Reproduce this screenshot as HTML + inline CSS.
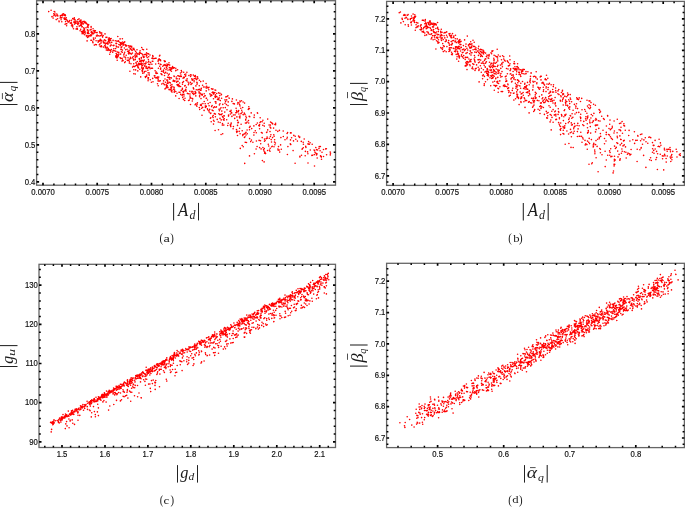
<!DOCTYPE html>
<html><head><meta charset="utf-8"><style>
html,body{margin:0;padding:0;background:#fff;overflow:hidden;}
svg{display:block;}
.t{font-family:"Liberation Sans",sans-serif;font-size:8.3px;fill:#111;stroke:#111;stroke-width:0.18px;}
.g{font-family:"Liberation Serif",serif;}
.t,.g{filter:grayscale(1);}
</style></head><body>
<svg width="685" height="507" viewBox="0 0 685 507">
<path d="M283.2 131.0h0M143.5 49.7h0M231.7 112.9h0M190.6 76.4h0M130.3 48.5h0M272.6 137.6h0M254.0 132.5h0M144.5 66.1h0M304.2 139.0h0M115.7 56.2h0M236.8 132.5h0M208.8 89.7h0M166.2 65.6h0M61.9 17.5h0M262.1 121.8h0M187.0 80.9h0M149.8 64.6h0M142.6 70.1h0M202.9 103.6h0M141.0 64.4h0M173.6 89.3h0M145.9 63.4h0M72.7 25.3h0M121.2 42.5h0M246.0 135.0h0M240.0 105.9h0M206.1 83.6h0M166.1 87.9h0M301.5 155.2h0M245.8 119.3h0M120.1 44.9h0M185.8 89.2h0M291.1 132.9h0M231.9 101.4h0M145.5 63.9h0M166.0 69.6h0M175.7 95.9h0M264.5 139.1h0M215.7 90.2h0M151.4 82.3h0M164.4 84.8h0M84.4 32.3h0M170.4 70.2h0M116.7 55.0h0M84.6 22.7h0M84.1 30.4h0M113.8 48.7h0M212.5 92.6h0M105.6 43.3h0M186.0 80.3h0M192.9 79.6h0M298.6 136.1h0M163.6 80.9h0M229.2 98.2h0M64.1 14.3h0M201.4 94.8h0M310.3 150.0h0M69.7 20.6h0M266.6 132.5h0M100.3 46.6h0M207.7 109.8h0M59.1 21.8h0M75.0 23.8h0M95.3 38.1h0M264.3 126.1h0M231.2 123.1h0M204.9 95.7h0M202.4 94.4h0M130.2 48.8h0M177.8 75.7h0M168.4 75.1h0M287.9 146.6h0M162.8 66.2h0M222.8 104.4h0M143.4 68.6h0M273.8 134.7h0M249.2 116.4h0M320.9 156.6h0M116.2 46.1h0M254.3 115.1h0M167.4 80.3h0M174.0 76.1h0M180.6 86.5h0M84.3 28.7h0M257.6 113.3h0M193.3 87.9h0M87.9 36.0h0M221.1 134.5h0M90.1 30.0h0M147.9 70.3h0M206.5 98.3h0M165.0 64.5h0M76.2 29.0h0M196.9 106.3h0M145.0 63.6h0M148.0 68.0h0M101.9 41.1h0M106.7 43.3h0M322.0 152.2h0M193.3 75.1h0M189.8 91.2h0M230.8 126.6h0M148.4 59.5h0M99.9 36.0h0M193.8 94.5h0M152.7 78.4h0M152.5 68.2h0M83.1 31.3h0M156.0 78.1h0M71.5 25.7h0M264.5 141.3h0M146.6 76.2h0M215.9 103.2h0M190.0 96.1h0M159.9 55.3h0M139.3 54.4h0M62.6 15.4h0M203.5 87.0h0M86.4 36.1h0M117.9 41.2h0M293.1 150.6h0M146.8 75.0h0M144.1 56.9h0M210.6 113.5h0M125.3 61.8h0M145.3 76.5h0M133.0 49.1h0M211.8 95.5h0M80.1 20.5h0M147.9 53.7h0M326.6 154.8h0M200.7 81.6h0M167.0 68.2h0M129.3 63.1h0M57.8 15.9h0M267.2 138.2h0M271.7 146.8h0M308.8 144.2h0M167.9 87.2h0M191.0 84.4h0M129.2 52.4h0M242.7 107.5h0M188.9 75.5h0M130.8 58.4h0M130.4 57.3h0M142.9 54.7h0M206.7 86.3h0M228.0 105.6h0M87.5 33.5h0M275.4 143.0h0M224.2 115.9h0M236.6 110.6h0M109.8 39.1h0M97.2 35.1h0M220.0 103.8h0M280.6 144.9h0M140.9 60.5h0M86.5 23.7h0M136.8 64.9h0M245.2 133.3h0M241.5 100.7h0M117.8 36.5h0M100.1 33.1h0M171.2 90.9h0M135.6 51.4h0M248.7 123.0h0M165.0 88.9h0M116.2 53.5h0M157.9 78.6h0M115.3 40.8h0M213.5 120.3h0M303.3 147.8h0M194.1 80.7h0M118.5 47.1h0M238.4 111.8h0M144.6 54.6h0M83.2 31.9h0M99.8 32.6h0M145.8 54.3h0M244.4 137.5h0M116.1 55.6h0M231.1 124.0h0M81.6 31.6h0M245.7 120.1h0M215.9 107.3h0M83.3 30.2h0M67.6 20.7h0M121.4 51.7h0M105.6 46.7h0M202.0 115.3h0M166.2 84.6h0M186.9 72.2h0M128.4 53.2h0M308.6 141.6h0M87.1 40.9h0M205.2 95.7h0M178.5 84.5h0M319.0 148.4h0M290.3 143.9h0M167.9 87.7h0M161.5 71.3h0M143.0 60.6h0M104.0 40.2h0M209.0 87.2h0M259.4 125.9h0M167.2 85.5h0M270.4 125.1h0M120.1 54.3h0M124.7 41.9h0M290.5 132.9h0M271.2 139.6h0M174.6 90.1h0M182.4 88.4h0M142.3 60.5h0M60.7 17.4h0M146.6 66.7h0M314.6 150.6h0M173.7 68.2h0M237.2 131.4h0M101.5 40.4h0M220.0 93.2h0M190.4 97.9h0M316.0 153.4h0M133.9 49.3h0M165.3 61.4h0M125.6 57.2h0M220.7 114.5h0M77.3 28.5h0M219.4 104.9h0M244.3 113.1h0M120.7 54.0h0M143.3 68.0h0M140.7 53.2h0M256.2 124.5h0M100.3 39.4h0M269.1 125.0h0M84.5 21.9h0M65.1 24.2h0M238.4 122.3h0M76.3 23.0h0M185.9 74.0h0M175.7 70.7h0M259.1 140.4h0M207.5 100.0h0M311.9 155.4h0M208.9 110.8h0M138.4 67.4h0M279.7 152.1h0M80.6 22.3h0M209.1 105.7h0M88.7 24.7h0M105.7 40.8h0M149.0 74.8h0M172.0 92.1h0M72.1 25.8h0M152.9 61.3h0M179.6 83.0h0M127.1 49.3h0M153.0 58.8h0M230.4 114.0h0M108.2 43.8h0M133.3 66.2h0M126.6 45.6h0M120.9 49.5h0M65.2 14.7h0M291.6 137.8h0M173.8 87.0h0M136.9 65.2h0M257.4 112.9h0M57.4 15.1h0M88.1 30.4h0M56.0 15.8h0M61.8 21.7h0M48.7 11.6h0M194.1 93.7h0M216.4 106.9h0M142.4 68.9h0M274.9 124.5h0M224.8 112.1h0M317.2 158.0h0M227.7 125.5h0M176.6 82.3h0M73.1 19.1h0M91.6 35.1h0M136.9 55.1h0M95.6 44.5h0M200.0 93.1h0M77.6 23.8h0M180.7 94.4h0M144.3 60.1h0M148.5 77.7h0M80.6 25.5h0M216.7 93.5h0M226.7 99.9h0M135.3 74.0h0M147.0 68.5h0M211.2 94.8h0M94.6 30.6h0M195.3 75.6h0M140.0 63.6h0M212.8 92.0h0M199.6 95.2h0M133.8 69.7h0M127.4 60.4h0M150.1 68.7h0M130.6 46.6h0M225.6 101.6h0M233.1 128.7h0M171.2 69.3h0M118.3 54.8h0M170.5 85.3h0M225.0 103.2h0M181.3 70.5h0M54.5 14.9h0M83.1 33.2h0M148.6 53.9h0M246.5 142.5h0M157.4 73.2h0M197.2 83.0h0M185.1 90.4h0M81.1 21.3h0M167.5 65.9h0M158.2 79.3h0M163.5 65.3h0M267.7 119.1h0M131.3 54.1h0M307.9 153.8h0M166.4 85.5h0M167.5 87.2h0M215.3 97.5h0M167.4 65.6h0M74.2 21.2h0M184.7 74.5h0M82.8 21.9h0M275.6 124.7h0M133.7 59.9h0M277.8 131.4h0M175.8 68.3h0M230.8 111.8h0M173.4 80.3h0M112.7 52.2h0M326.4 148.8h0M199.4 80.2h0M162.0 71.3h0M281.3 149.3h0M183.5 77.2h0M153.0 56.4h0M110.0 43.0h0M138.3 67.9h0M238.3 111.6h0M101.6 46.7h0M164.5 75.5h0M201.1 90.1h0M160.7 60.8h0M151.5 68.2h0M65.1 15.8h0M239.4 116.9h0M79.0 18.9h0M158.4 68.2h0M82.1 26.5h0M134.3 49.9h0M230.7 125.9h0M273.6 128.1h0M66.6 25.7h0M131.7 46.3h0M210.4 113.3h0M146.0 66.2h0M316.5 149.6h0M97.1 32.6h0M96.1 40.7h0M218.7 93.0h0M211.5 88.7h0M279.4 130.4h0M79.1 26.0h0M54.9 12.0h0M93.8 39.8h0M272.3 146.3h0M158.7 77.1h0M157.6 77.0h0M125.3 45.2h0M109.1 37.8h0M90.9 34.8h0M224.3 118.8h0M67.8 21.6h0M221.6 98.3h0M172.2 68.0h0M106.0 37.4h0M116.7 46.5h0M68.1 22.1h0M246.4 123.0h0M191.8 78.9h0M220.3 100.6h0M180.0 92.2h0M74.5 24.1h0M214.9 92.5h0M260.2 117.7h0M124.1 56.9h0M149.7 67.4h0M320.4 146.5h0M195.9 103.8h0M94.3 45.1h0M104.4 42.7h0M122.7 42.1h0M274.9 144.8h0M237.6 104.0h0M55.0 14.0h0M184.7 85.9h0M110.3 52.2h0M121.1 47.8h0M177.6 69.7h0M108.7 40.1h0M209.9 93.9h0M65.6 21.6h0M62.5 14.3h0M129.3 61.2h0M84.4 29.4h0M249.8 116.7h0M227.9 95.7h0M184.3 77.6h0M220.1 122.5h0M51.9 16.8h0M118.9 44.5h0M175.8 91.5h0M236.5 129.6h0M190.5 104.5h0M137.8 70.9h0M121.2 49.5h0M251.2 112.9h0M183.5 99.4h0M249.5 129.8h0M87.4 29.9h0M236.1 108.3h0M77.7 24.5h0M141.8 68.1h0M152.0 68.1h0M76.1 29.0h0M275.6 123.2h0M154.9 77.2h0M76.1 21.5h0M210.8 117.7h0M138.5 63.4h0M192.3 80.3h0M205.9 105.7h0M302.3 148.9h0M187.4 93.4h0M201.0 98.6h0M293.8 135.4h0M136.2 63.3h0M138.0 67.4h0M215.1 130.5h0M201.3 105.6h0M137.3 61.5h0M278.1 150.1h0M308.0 143.9h0M323.5 149.5h0M212.1 110.1h0M243.3 146.7h0M264.1 161.9h0M192.3 101.0h0M265.6 153.6h0M182.5 84.3h0M136.5 52.9h0M176.0 70.4h0M101.5 46.8h0M303.4 144.2h0M101.5 33.0h0M138.1 64.9h0M93.0 33.9h0M242.9 134.5h0M222.1 113.7h0M247.3 133.7h0M272.7 123.9h0M231.1 110.3h0M192.6 93.5h0M212.1 105.6h0M248.5 120.6h0M101.1 42.9h0M116.9 54.4h0M188.2 82.2h0M167.0 64.0h0M277.9 149.0h0M137.7 53.7h0M77.4 29.3h0M128.4 51.7h0M105.4 44.9h0M156.8 77.6h0M88.1 27.5h0M196.9 82.4h0M149.3 75.1h0M116.6 43.5h0M259.6 147.6h0M317.6 150.0h0M209.7 109.4h0M88.4 31.7h0M177.4 84.6h0M212.7 116.3h0M165.5 82.3h0M103.2 35.5h0M141.0 61.8h0M262.2 133.1h0M67.0 20.2h0M71.4 22.3h0M212.2 92.5h0M242.8 135.6h0M195.8 92.9h0M264.2 123.2h0M174.9 80.9h0M202.6 85.2h0M158.1 61.3h0M233.4 115.0h0M64.2 15.3h0M150.0 55.0h0M144.1 72.7h0M88.9 35.9h0M167.6 64.9h0M222.3 125.1h0M98.6 35.7h0M323.5 156.5h0M110.3 45.9h0M264.0 151.0h0M56.2 19.6h0M174.2 91.3h0M75.0 19.7h0M130.3 46.1h0M236.8 111.7h0M194.3 78.5h0M260.7 143.8h0M169.7 65.1h0M88.9 33.6h0M79.9 21.8h0M177.9 85.8h0M270.8 128.1h0M315.0 152.3h0M223.9 115.7h0M77.7 21.9h0M104.6 45.8h0M199.0 91.9h0M190.0 94.0h0M267.6 150.5h0M168.5 64.5h0M126.6 45.8h0M91.7 40.3h0M224.0 120.2h0M266.2 138.8h0M218.8 113.7h0M101.5 33.1h0M195.9 85.9h0M263.6 149.6h0M167.6 77.3h0M66.1 23.8h0M125.6 49.7h0M204.2 101.5h0M93.1 28.7h0M141.6 63.4h0M310.1 142.7h0M94.2 32.9h0M159.1 59.9h0M202.3 94.8h0M113.0 51.0h0M237.8 122.7h0M104.1 43.3h0M192.0 83.4h0M65.4 15.3h0M330.5 153.3h0M177.6 85.5h0M118.8 52.4h0M95.4 30.8h0M66.8 23.8h0M124.7 52.2h0M246.4 117.7h0M120.8 58.4h0M280.9 137.6h0M321.3 157.1h0M187.1 78.9h0M90.9 40.3h0M139.7 61.5h0M213.5 107.8h0M146.3 56.1h0M202.6 85.3h0M210.7 113.5h0M103.4 42.3h0M130.3 53.4h0M203.8 96.9h0M174.3 92.2h0M173.3 67.9h0M91.9 33.3h0M265.0 152.3h0M61.1 19.7h0M223.8 125.1h0M129.8 46.0h0M228.2 101.9h0M134.2 66.5h0M236.5 129.7h0M196.2 79.0h0M295.8 139.2h0M215.9 101.9h0M262.9 147.5h0M142.1 70.5h0M213.1 117.5h0M210.1 102.5h0M111.7 42.3h0M227.0 109.8h0M180.9 75.0h0M270.2 148.3h0M174.2 67.7h0M253.9 125.9h0M133.4 59.0h0M142.1 65.7h0M183.5 81.6h0M78.1 23.1h0M159.3 81.1h0M261.1 148.9h0M204.2 93.8h0M278.5 146.6h0M271.8 122.9h0M87.5 37.4h0M122.6 60.1h0M221.0 107.8h0M161.0 64.5h0M233.4 126.6h0M168.0 83.4h0M109.2 41.0h0M128.4 45.8h0M184.0 94.3h0M260.0 122.5h0M57.6 18.7h0M174.1 81.0h0M183.8 91.3h0M268.7 146.0h0M71.9 24.2h0M151.9 58.2h0M215.0 90.0h0M111.1 38.5h0M205.4 107.4h0M122.4 52.3h0M178.1 81.3h0M182.4 89.5h0M88.2 26.0h0M181.3 76.5h0M170.9 87.4h0M113.4 45.6h0M53.8 15.8h0M231.9 116.4h0M163.1 83.2h0M170.7 68.1h0M145.9 71.2h0M144.4 71.6h0M185.8 89.5h0M183.0 91.5h0M143.0 56.1h0M188.6 100.5h0M143.6 60.8h0M160.3 80.8h0M143.8 64.0h0M59.0 21.1h0M76.9 26.7h0M267.7 129.9h0M166.8 80.1h0M96.4 44.8h0M199.3 85.7h0M245.9 116.2h0M142.1 63.6h0M155.5 58.2h0M270.0 151.2h0M274.6 139.7h0M242.2 112.1h0M163.6 70.1h0M141.9 53.7h0M74.6 19.4h0M216.1 96.2h0M109.8 40.3h0M225.9 96.9h0M251.4 140.1h0M171.4 78.0h0M193.7 88.9h0M198.4 89.6h0M123.8 42.9h0M132.4 53.0h0M133.7 48.7h0M201.0 94.0h0M249.4 108.6h0M222.5 123.5h0M195.7 76.9h0M83.3 23.9h0M146.6 55.0h0M162.0 74.8h0M210.4 118.3h0M240.3 148.4h0M166.4 67.3h0M237.5 125.4h0M163.5 70.9h0M120.5 45.8h0M86.2 23.1h0M131.0 63.8h0M164.2 60.8h0M221.4 94.7h0M254.4 153.8h0M155.1 70.7h0M133.2 56.5h0M177.0 93.3h0M146.6 52.9h0M120.0 42.5h0M223.2 107.7h0M122.4 50.1h0M218.6 92.7h0M202.7 107.4h0M134.9 55.5h0M235.8 112.8h0M135.3 57.7h0M245.0 114.4h0M204.1 110.4h0M84.8 34.8h0M164.1 84.3h0M108.9 41.4h0M168.0 70.1h0M72.7 26.9h0M82.1 33.7h0M179.3 78.9h0M215.3 94.9h0M102.6 37.1h0M183.1 78.3h0M215.0 96.5h0M245.4 123.0h0M159.7 66.2h0M320.5 155.9h0M309.4 144.2h0M240.0 116.1h0M141.4 64.5h0M103.4 47.1h0M110.3 38.8h0M270.0 131.6h0M72.1 25.4h0M155.9 73.3h0M245.2 142.3h0M113.8 48.8h0M93.0 42.7h0M120.1 57.7h0M214.4 113.6h0M197.4 102.8h0M83.8 27.7h0M99.3 44.7h0M190.3 97.5h0M180.8 76.4h0M217.5 99.4h0M116.8 41.1h0M179.3 85.8h0M241.7 110.2h0M295.1 163.2h0M225.3 107.6h0M256.1 149.0h0M111.0 45.0h0M169.3 74.1h0M305.4 151.4h0M195.5 93.6h0M99.1 40.9h0M148.6 64.2h0M107.6 42.8h0M242.2 130.7h0M99.8 40.2h0M159.5 56.0h0M169.5 89.6h0M172.6 66.6h0M244.7 163.4h0M69.0 21.7h0M106.9 37.2h0M110.5 50.4h0M161.7 74.4h0M269.5 150.1h0M218.9 99.7h0M160.7 68.3h0M139.0 54.1h0M237.5 120.4h0M201.6 108.2h0M213.5 98.7h0M261.4 132.5h0M71.5 23.8h0M237.9 102.6h0M317.0 153.9h0M171.8 69.0h0M79.4 26.1h0M85.5 22.1h0M267.0 132.0h0M105.6 40.8h0M228.6 115.1h0M225.0 99.9h0M152.7 55.5h0M116.4 56.9h0M91.1 27.6h0M128.8 53.9h0M199.7 89.3h0M243.1 102.0h0M168.5 77.5h0M91.4 31.6h0M241.1 124.2h0M172.6 67.6h0M160.7 68.0h0M221.4 94.4h0M65.4 18.3h0M106.0 43.4h0M63.3 13.9h0M122.1 58.4h0M165.0 79.0h0M106.9 50.0h0M64.2 17.9h0M80.7 29.3h0M142.3 71.6h0M160.4 64.4h0M105.2 47.7h0M169.8 79.2h0M199.6 96.7h0M140.7 76.9h0M176.3 78.7h0M107.9 49.9h0M144.7 65.7h0M147.8 68.3h0M207.4 108.7h0M229.9 111.2h0M135.3 54.1h0M207.0 87.4h0M121.3 44.3h0M257.1 146.5h0M93.4 38.0h0M192.0 91.3h0M117.7 56.9h0M135.6 69.9h0M148.0 77.9h0M108.2 48.6h0M177.0 81.3h0M262.9 120.2h0M305.2 155.8h0M87.8 25.7h0M81.3 25.6h0M148.8 67.1h0M287.4 154.5h0M218.4 98.7h0M141.7 47.5h0M290.5 139.9h0M259.6 128.7h0M152.3 61.3h0M286.9 138.7h0M239.0 103.0h0M213.0 89.0h0M227.1 96.5h0M279.2 150.0h0M217.1 97.0h0M206.2 90.9h0M164.5 68.2h0M293.5 140.9h0M126.2 55.3h0M255.3 130.8h0M118.7 53.0h0M116.9 47.1h0M116.0 43.4h0M262.8 125.2h0M219.8 95.6h0M122.3 44.0h0M101.4 45.7h0M213.2 115.5h0M97.1 35.9h0M270.4 136.5h0M92.7 33.0h0M206.3 88.1h0M113.3 50.5h0M201.3 104.2h0M270.0 127.0h0M244.6 103.1h0M195.4 92.5h0M171.0 88.9h0M157.5 83.8h0M213.5 124.1h0M226.4 104.6h0M203.2 81.1h0M167.3 83.2h0M221.2 119.9h0M141.1 61.3h0M123.1 45.2h0M70.3 23.1h0M109.6 50.2h0M302.1 149.3h0M199.1 92.9h0M146.7 55.7h0M290.7 144.4h0M77.2 29.3h0M136.0 62.6h0M155.7 64.0h0M120.1 38.9h0M238.9 114.0h0M124.2 53.8h0M169.3 77.2h0M301.3 141.4h0M170.3 82.9h0M118.4 40.7h0M191.5 92.0h0M250.7 141.6h0M142.7 73.2h0M79.5 21.5h0M156.0 72.3h0M236.4 100.0h0M99.9 44.0h0M132.1 50.5h0M109.7 54.3h0M264.8 152.4h0M245.0 136.8h0M95.9 32.5h0M93.3 30.7h0M116.9 58.0h0M226.7 119.8h0M82.9 21.5h0M185.3 76.2h0M213.6 92.6h0M270.6 122.1h0M299.9 156.9h0M158.6 63.4h0M249.5 155.9h0M316.5 154.9h0M321.3 156.5h0M247.2 122.0h0M195.6 78.7h0M87.4 26.7h0M182.7 94.5h0M52.1 16.5h0M234.7 118.4h0M107.9 44.2h0M167.2 86.6h0M94.5 31.8h0M236.8 112.6h0M161.0 73.8h0M148.1 80.8h0M71.5 20.3h0M212.3 89.3h0M61.5 17.9h0M131.1 49.6h0M241.3 113.2h0M164.5 64.9h0M129.9 71.2h0M249.6 138.6h0M116.0 57.2h0M314.1 150.1h0M129.5 63.0h0M117.2 60.2h0M262.4 160.6h0M55.8 16.1h0M257.4 123.0h0M184.0 96.0h0M236.6 131.5h0M156.2 73.4h0M121.8 43.5h0M160.6 69.2h0M108.4 39.1h0M64.8 18.6h0M139.6 64.4h0M199.7 109.5h0M117.8 56.6h0M88.4 33.1h0M219.1 97.9h0M54.2 11.5h0M251.7 128.6h0M53.1 18.1h0M117.9 56.3h0M160.4 59.7h0M122.4 38.8h0M177.1 78.8h0M228.5 116.1h0M170.9 89.8h0M165.7 72.3h0M195.1 104.7h0M137.0 56.8h0M154.3 58.5h0M152.8 56.9h0M124.4 48.0h0M179.1 86.6h0M320.1 150.7h0M196.6 79.6h0M85.3 33.1h0M121.9 46.7h0M171.4 71.2h0M90.0 35.6h0M201.0 90.2h0M210.6 96.0h0M196.6 105.7h0M182.1 95.4h0M123.8 44.6h0M145.5 77.4h0M122.0 61.1h0M169.7 69.8h0M254.1 117.4h0M142.0 65.9h0M215.2 101.7h0M156.2 72.0h0M165.2 65.4h0M276.0 130.2h0M126.0 46.3h0M258.8 125.6h0M86.0 23.5h0M222.7 133.7h0M144.1 57.3h0M253.9 135.1h0M84.5 22.2h0M238.2 122.7h0M243.1 114.6h0M308.0 163.0h0M219.0 109.3h0M108.2 41.6h0M211.6 106.6h0M133.7 63.8h0M314.5 166.0h0M239.9 117.9h0M185.2 85.6h0M84.0 28.5h0M146.1 62.0h0M192.7 98.9h0M283.3 136.5h0M99.6 31.7h0M131.3 49.7h0M223.1 117.4h0M312.6 155.2h0M321.5 159.3h0M127.6 51.3h0M219.4 110.8h0M101.8 33.1h0M75.9 21.7h0M195.1 91.5h0M151.9 64.3h0M190.5 74.7h0M141.6 63.4h0M51.1 10.2h0M110.6 40.4h0M62.4 15.8h0M238.7 110.5h0M82.0 23.7h0M100.1 32.3h0M75.9 21.1h0M239.6 128.3h0M193.1 92.0h0M108.2 41.8h0M111.7 42.5h0M109.5 39.5h0M100.2 40.9h0M158.2 85.7h0M274.1 136.3h0M287.1 133.5h0M299.8 137.1h0M87.5 26.9h0M228.7 115.2h0M141.3 57.5h0M179.1 98.5h0M132.6 67.1h0M210.8 113.1h0M137.0 49.8h0M256.4 141.0h0M113.1 45.5h0M145.9 67.9h0M223.4 119.6h0M91.2 32.5h0M74.3 17.9h0M87.7 24.4h0M210.5 96.1h0M295.2 136.2h0M164.7 61.6h0M158.2 60.0h0M84.1 21.3h0M86.7 35.6h0M111.4 49.5h0M174.2 87.9h0M131.7 53.8h0M140.1 50.8h0M191.9 98.3h0M260.5 140.8h0M85.0 31.4h0M93.7 39.3h0M108.5 39.6h0M240.8 108.3h0M153.0 81.8h0M250.1 126.4h0M171.6 87.8h0M102.5 36.5h0M202.3 95.1h0M106.3 48.0h0M240.2 101.7h0M106.3 50.0h0M113.1 40.4h0M247.1 130.0h0M239.2 131.4h0M195.5 92.2h0M164.8 73.2h0M209.2 112.1h0M118.8 41.4h0M64.1 18.4h0M142.5 49.2h0M197.1 104.2h0M108.0 50.5h0M218.3 122.0h0M252.9 142.2h0M148.7 61.3h0M139.8 52.3h0M92.7 41.9h0M236.9 116.9h0M148.1 72.8h0M297.4 141.1h0M167.2 73.3h0M186.3 87.3h0M136.2 56.4h0M176.3 77.0h0M219.7 114.6h0M123.8 54.9h0M197.0 84.3h0M315.8 147.5h0M146.8 49.2h0M106.0 37.4h0M270.9 134.8h0M80.1 30.7h0M303.2 142.2h0M287.6 132.5h0M141.3 58.7h0M172.0 90.3h0M98.1 42.3h0M190.3 82.4h0M60.1 18.0h0M246.0 132.4h0M88.8 36.8h0M271.5 142.0h0M115.6 48.6h0M143.9 57.0h0M60.3 15.9h0M147.2 57.6h0M76.0 23.0h0M274.5 142.0h0M239.9 101.0h0M307.6 151.9h0M161.7 84.0h0M197.9 89.9h0M174.7 81.5h0M305.9 147.4h0M182.6 82.5h0M235.0 114.9h0M135.0 56.1h0M220.0 118.4h0M221.4 114.7h0M156.1 58.3h0M114.7 50.7h0M98.9 41.2h0M237.5 135.5h0M285.0 139.7h0M110.9 51.2h0M181.2 90.4h0M199.3 107.6h0M90.9 35.9h0M256.3 132.7h0M109.6 42.3h0M205.0 87.0h0M179.0 92.3h0M214.3 113.7h0M189.3 100.1h0M100.8 35.5h0M73.5 28.7h0M208.2 103.6h0M265.1 140.5h0M169.0 89.6h0M264.3 148.6h0M330.2 152.0h0M183.4 92.4h0M135.8 65.8h0M111.2 45.1h0M188.4 84.8h0M268.3 144.3h0M65.2 19.5h0M174.1 67.8h0M316.6 149.7h0M233.2 103.6h0M217.2 119.4h0M128.0 57.8h0M66.5 19.6h0M229.0 98.0h0M242.8 134.8h0M93.8 39.8h0M91.1 26.5h0M103.7 41.9h0M185.0 98.2h0M183.7 72.3h0M148.2 79.1h0M305.7 146.4h0M221.8 111.1h0M177.0 84.8h0M106.7 48.1h0M78.6 23.6h0M169.0 62.8h0M264.6 153.2h0M213.3 94.1h0M269.3 138.2h0M125.5 44.7h0M148.7 56.8h0M167.7 87.2h0M115.8 51.2h0M197.5 76.9h0M98.1 40.8h0M178.9 75.9h0M167.7 80.0h0M134.7 66.6h0M72.7 18.6h0M131.8 47.7h0M150.2 62.2h0M128.7 60.3h0M143.4 67.9h0M139.5 59.7h0M150.7 62.7h0M117.3 56.0h0M83.6 33.8h0M91.1 29.5h0M154.9 75.7h0M215.4 114.1h0M143.4 61.7h0M118.4 55.9h0M197.8 78.4h0M125.6 59.0h0M148.0 62.2h0M243.3 114.7h0M158.1 80.9h0M135.3 59.6h0M129.4 59.1h0M190.1 98.3h0M330.3 154.9h0M185.7 75.9h0M239.8 117.1h0M53.7 13.7h0M319.2 146.5h0M172.0 86.4h0M244.1 134.1h0M312.2 144.3h0M188.6 93.7h0M248.6 108.9h0M78.1 22.3h0M248.3 109.5h0M96.4 36.0h0M66.3 17.7h0M133.8 60.3h0M167.6 81.8h0M200.3 90.3h0M107.4 47.2h0M194.1 81.8h0M64.4 19.2h0M299.4 137.4h0M267.1 137.1h0M154.3 75.7h0M139.8 69.2h0M169.3 67.8h0M290.8 144.6h0M206.2 98.3h0M232.4 98.9h0M205.3 106.0h0M325.7 148.9h0M87.4 32.2h0M259.6 124.6h0M137.8 66.6h0M80.2 20.7h0M129.1 50.4h0M82.3 26.8h0M230.2 125.0h0M205.2 103.7h0M169.3 77.9h0M240.8 113.7h0M139.3 53.1h0M174.2 76.4h0M184.7 100.5h0M166.5 86.9h0M105.0 33.9h0M218.5 129.7h0M116.1 43.7h0M81.0 20.1h0M123.0 43.3h0M149.2 73.0h0M214.1 121.2h0M182.6 94.6h0M274.0 146.8h0M179.4 76.5h0M132.5 57.8h0M260.6 121.8h0M61.3 15.2h0M109.0 49.5h0M228.2 123.3h0M133.8 48.4h0M287.3 137.3h0M81.7 22.9h0M82.7 32.4h0M133.8 73.7h0M213.1 110.8h0M249.5 127.4h0M123.1 60.6h0M143.5 57.5h0M222.5 116.6h0M196.3 89.7h0M183.6 91.7h0M206.3 106.6h0M182.7 97.4h0M86.0 27.8h0M91.9 32.1h0M159.1 58.9h0M56.8 14.0h0M141.7 67.3h0M167.1 65.5h0M314.3 154.6h0M188.8 83.7h0M101.8 34.9h0M170.8 77.8h0M169.7 67.6h0M213.9 93.4h0M214.4 106.9h0M136.1 63.0h0M242.2 145.5h0M171.9 84.5h0M65.4 15.8h0M163.5 72.3h0M100.1 46.3h0M200.4 105.1h0M215.4 116.8h0M201.3 88.4h0M139.3 58.6h0M117.4 52.1h0M82.2 32.6h0M139.2 64.7h0M180.5 73.0h0M77.7 19.7h0M240.1 133.8h0M150.3 79.8h0M80.5 24.0h0M129.1 47.2h0M104.7 39.8h0M124.7 62.6h0M142.6 65.2h0M120.7 43.6h0M75.0 22.6h0M248.8 106.8h0M211.2 121.8h0M191.2 75.0h0M220.2 109.0h0M195.8 95.9h0M181.7 71.9h0M113.9 45.4h0M186.1 91.1h0M171.9 67.8h0M234.4 103.9h0M239.6 104.5h0M208.2 87.9h0M169.2 82.3h0M82.0 26.9h0M262.2 137.6h0M173.1 81.3h0M299.9 156.3h0M81.6 24.2h0M73.9 22.3h0M194.4 76.2h0" stroke="#ff0000" stroke-width="1.6" stroke-linecap="round" fill="none"/>
<path d="M634.4 131.7h0M492.9 50.7h0M580.8 117.8h0M540.2 77.0h0M479.4 53.3h0M623.5 140.9h0M604.5 138.5h0M494.8 73.5h0M655.1 140.4h0M465.2 65.9h0M585.8 143.8h0M559.0 94.6h0M516.3 69.1h0M411.3 22.7h0M612.3 126.3h0M538.0 87.2h0M499.3 70.2h0M492.6 77.7h0M553.1 109.6h0M491.2 72.4h0M524.2 97.8h0M496.2 69.1h0M423.6 31.2h0M470.5 44.4h0M595.6 144.6h0M590.5 107.6h0M555.6 88.0h0M515.6 98.7h0M651.3 160.5h0M596.0 125.0h0M469.6 47.1h0M536.1 97.9h0M641.9 134.0h0M580.5 101.5h0M493.8 70.7h0M516.4 74.3h0M525.0 107.4h0M615.4 148.5h0M567.6 93.0h0M501.2 91.6h0M514.0 93.1h0M434.3 35.5h0M520.5 74.9h0M466.5 63.9h0M433.9 25.2h0M434.3 32.1h0M462.3 52.8h0M562.7 94.8h0M455.6 47.4h0M536.8 83.8h0M542.9 82.4h0M648.8 137.3h0M512.8 88.3h0M579.2 97.9h0M414.5 16.6h0M552.1 101.2h0M660.3 154.2h0M420.7 25.1h0M617.4 137.7h0M449.7 51.0h0M555.8 119.6h0M408.2 24.8h0M424.9 26.9h0M445.3 41.6h0M614.0 133.0h0M580.8 132.3h0M555.3 102.7h0M551.9 98.6h0M478.6 52.2h0M527.5 82.4h0M519.0 81.4h0M637.2 149.3h0M513.1 71.5h0M573.1 110.3h0M493.2 77.7h0M623.9 140.8h0M598.4 120.7h0M670.8 161.5h0M467.2 52.6h0M604.2 119.4h0M516.5 86.7h0M524.9 83.2h0M529.5 93.6h0M435.3 32.9h0M607.6 115.5h0M543.6 89.8h0M438.1 42.7h0M571.0 147.4h0M440.7 32.8h0M497.8 77.4h0M555.8 105.9h0M514.9 66.8h0M424.8 33.0h0M546.7 117.9h0M493.7 69.5h0M497.9 73.3h0M452.3 43.2h0M457.1 47.2h0M671.8 154.6h0M541.3 76.2h0M539.4 96.6h0M581.6 136.4h0M497.9 65.4h0M450.2 36.1h0M543.3 100.3h0M503.8 85.2h0M500.9 73.6h0M432.7 35.8h0M505.6 86.2h0M421.8 29.1h0M614.5 146.1h0M496.7 85.6h0M564.2 110.6h0M541.3 102.9h0M510.0 59.8h0M488.7 58.3h0M413.4 17.7h0M552.6 92.1h0M436.5 37.7h0M468.5 44.7h0M643.6 155.4h0M496.9 81.9h0M494.0 62.3h0M559.8 125.7h0M475.4 68.8h0M494.3 90.2h0M483.6 53.9h0M562.3 101.1h0M430.0 20.9h0M496.5 56.8h0M677.0 157.0h0M551.1 84.8h0M516.2 69.9h0M478.9 70.1h0M407.8 19.1h0M617.7 143.4h0M621.4 153.3h0M658.1 146.5h0M517.5 96.6h0M540.3 87.7h0M480.4 54.4h0M593.9 113.4h0M537.3 79.1h0M480.4 65.8h0M481.4 63.3h0M493.8 58.2h0M558.0 90.9h0M578.8 112.4h0M437.8 37.4h0M625.5 146.9h0M575.1 126.0h0M586.9 113.2h0M458.5 42.9h0M447.3 37.1h0M568.7 107.9h0M631.1 149.5h0M491.1 63.4h0M436.3 24.9h0M486.9 71.9h0M593.9 144.8h0M591.0 102.6h0M467.3 36.1h0M450.0 33.6h0M520.9 101.5h0M485.6 53.1h0M598.8 128.4h0M513.9 100.1h0M465.2 59.4h0M508.6 87.9h0M464.6 39.9h0M563.3 130.3h0M653.7 150.4h0M543.8 84.0h0M469.9 48.1h0M587.7 117.5h0M494.1 55.2h0M431.7 33.8h0M450.3 36.0h0M495.5 56.0h0M594.7 150.1h0M466.4 62.0h0M582.7 137.7h0M431.8 37.6h0M595.3 125.3h0M565.4 115.5h0M433.7 31.9h0M416.1 24.8h0M471.0 55.1h0M454.5 51.2h0M551.2 129.9h0M516.9 94.7h0M536.2 71.8h0M478.0 59.8h0M659.1 139.2h0M435.9 49.0h0M555.1 103.9h0M527.5 92.0h0M669.0 149.3h0M639.9 149.8h0M518.5 98.4h0M511.3 78.2h0M493.2 64.2h0M454.9 41.7h0M558.8 89.5h0M610.3 129.8h0M517.6 94.8h0M621.0 127.2h0M469.5 61.8h0M474.8 46.5h0M640.5 134.5h0M621.6 143.4h0M525.3 100.8h0M533.0 98.3h0M492.6 65.7h0M410.3 19.4h0M496.2 72.2h0M664.8 150.0h0M522.8 71.2h0M586.9 144.6h0M451.3 44.6h0M570.2 94.6h0M540.7 105.9h0M665.1 155.7h0M484.2 52.3h0M513.9 63.6h0M475.1 62.1h0M571.3 122.9h0M427.0 31.8h0M569.6 109.3h0M595.9 118.5h0M470.5 59.8h0M493.1 75.5h0M489.1 55.9h0M606.3 132.4h0M451.2 41.6h0M619.1 129.7h0M434.5 23.7h0M417.1 26.7h0M588.4 132.1h0M426.3 26.7h0M535.9 77.7h0M524.9 74.0h0M609.6 150.9h0M558.3 108.8h0M662.6 158.7h0M559.4 118.8h0M487.8 73.9h0M629.3 153.8h0M432.5 26.9h0M558.1 114.4h0M437.6 27.4h0M455.5 46.9h0M497.8 81.3h0M521.0 102.5h0M421.0 30.1h0M502.0 64.7h0M529.3 90.5h0M477.6 51.1h0M503.0 62.4h0M580.8 120.8h0M457.8 48.7h0M481.3 72.3h0M475.9 47.9h0M469.6 53.7h0M415.3 16.9h0M641.9 139.0h0M523.3 95.3h0M486.7 73.2h0M607.7 116.1h0M408.1 14.6h0M437.5 34.7h0M406.5 17.8h0M411.4 25.0h0M399.2 12.7h0M542.1 98.7h0M566.0 114.3h0M492.6 78.1h0M623.9 125.6h0M572.9 117.3h0M666.2 162.1h0M577.4 136.5h0M526.8 88.9h0M423.4 20.4h0M441.5 40.5h0M485.7 58.9h0M444.7 50.8h0M550.2 99.4h0M428.2 32.4h0M530.6 102.8h0M495.5 63.3h0M497.9 88.2h0M430.4 28.2h0M566.7 96.8h0M576.5 103.7h0M484.3 83.9h0M495.9 78.0h0M561.1 96.8h0M444.8 32.5h0M546.5 75.2h0M489.9 70.0h0M560.8 95.7h0M548.5 101.5h0M482.6 78.7h0M476.6 64.9h0M500.3 75.2h0M480.7 49.4h0M575.7 106.1h0M582.0 142.2h0M520.8 76.5h0M468.2 62.3h0M521.9 93.5h0M575.8 108.1h0M531.1 72.8h0M405.0 18.2h0M433.1 39.8h0M498.3 55.0h0M596.1 157.8h0M506.0 79.0h0M548.2 87.5h0M535.1 96.8h0M430.2 21.6h0M517.1 68.9h0M507.7 88.6h0M513.3 68.4h0M617.3 119.2h0M482.4 56.5h0M656.6 157.6h0M517.0 94.1h0M517.3 95.2h0M565.9 105.3h0M516.9 70.0h0M423.4 28.7h0M534.7 76.3h0M434.2 24.1h0M624.6 126.0h0M484.2 65.3h0M628.7 135.5h0M526.1 73.6h0M580.7 118.6h0M524.7 86.7h0M462.6 56.9h0M676.9 151.8h0M549.4 83.4h0M512.3 77.5h0M630.9 154.2h0M532.9 81.2h0M503.8 56.8h0M460.0 44.4h0M488.6 75.9h0M587.4 117.0h0M452.2 54.7h0M515.4 83.2h0M551.1 95.2h0M509.5 65.4h0M502.0 76.5h0M413.9 18.5h0M589.7 122.0h0M429.5 21.2h0M507.4 73.8h0M431.5 29.8h0M483.2 50.8h0M580.0 136.2h0M622.5 133.2h0M415.3 30.3h0M480.3 49.5h0M560.7 123.0h0M496.1 74.1h0M667.2 151.2h0M446.7 31.9h0M446.9 46.6h0M567.7 95.4h0M561.4 92.5h0M629.1 130.4h0M428.2 27.4h0M404.2 14.6h0M442.7 47.8h0M622.2 151.3h0M508.0 84.7h0M507.8 84.1h0M475.4 49.4h0M458.8 41.2h0M440.3 35.9h0M573.9 127.2h0M418.2 25.9h0M571.6 101.8h0M521.8 71.2h0M455.6 41.1h0M467.8 50.1h0M417.7 26.9h0M596.1 129.6h0M542.1 82.7h0M569.8 106.9h0M528.9 102.2h0M423.8 27.5h0M564.6 96.2h0M610.0 120.1h0M473.8 64.4h0M498.9 72.9h0M670.4 149.9h0M546.3 111.4h0M443.3 51.6h0M455.8 50.2h0M471.9 43.9h0M625.9 152.3h0M588.4 107.8h0M405.8 15.0h0M535.3 92.2h0M459.4 57.9h0M470.5 51.1h0M527.9 71.7h0M458.0 41.9h0M560.4 101.1h0M414.7 22.5h0M411.5 16.0h0M479.2 69.1h0M434.0 32.5h0M600.0 121.1h0M577.4 98.5h0M533.1 85.2h0M570.3 132.7h0M400.9 22.9h0M468.5 45.7h0M526.6 100.5h0M587.5 141.1h0M540.0 113.5h0M487.5 79.6h0M471.1 52.8h0M601.7 116.2h0M534.4 110.4h0M599.2 138.7h0M436.9 34.0h0M585.5 111.2h0M427.2 28.0h0M492.3 75.1h0M500.7 77.0h0M424.9 35.4h0M623.9 123.7h0M504.7 85.0h0M426.5 24.0h0M560.5 130.3h0M487.6 69.4h0M542.1 83.3h0M555.8 114.4h0M652.6 148.8h0M537.3 100.4h0M550.2 107.2h0M643.9 139.9h0M487.1 71.0h0M487.3 75.5h0M565.2 144.2h0M551.3 115.2h0M487.2 68.6h0M626.2 158.0h0M658.6 146.3h0M672.8 151.4h0M561.8 116.1h0M591.7 163.8h0M613.1 172.9h0M541.0 108.4h0M615.3 160.0h0M532.7 90.0h0M486.4 56.5h0M526.0 71.6h0M451.6 54.4h0M653.9 145.4h0M451.5 36.0h0M488.4 74.2h0M442.2 38.1h0M593.2 147.0h0M571.5 125.0h0M597.1 146.4h0M620.9 123.1h0M580.7 114.2h0M542.8 101.2h0M561.8 115.6h0M597.6 125.0h0M451.5 47.7h0M465.8 62.8h0M537.9 87.3h0M516.7 66.8h0M627.4 154.3h0M488.3 55.7h0M426.6 34.9h0M479.2 59.6h0M456.2 49.2h0M506.9 86.7h0M438.3 31.6h0M546.2 86.7h0M498.6 83.5h0M466.9 48.4h0M609.8 155.2h0M668.3 149.3h0M559.4 117.7h0M438.7 34.5h0M526.4 92.5h0M563.1 126.5h0M515.9 88.2h0M453.7 37.4h0M490.3 67.6h0M611.3 138.3h0M416.6 22.6h0M421.3 27.5h0M562.9 93.6h0M593.4 146.5h0M545.8 98.0h0M612.3 127.8h0M526.2 87.2h0M553.6 92.0h0M508.4 65.9h0M583.8 121.4h0M414.2 18.3h0M500.1 56.4h0M494.0 85.2h0M438.5 42.9h0M518.8 68.7h0M571.4 136.7h0M448.7 40.6h0M672.0 157.3h0M460.6 51.0h0M614.3 161.0h0M405.2 24.8h0M525.3 100.4h0M425.1 21.3h0M481.3 52.0h0M587.3 118.8h0M543.5 83.0h0M610.1 152.5h0M520.6 69.7h0M437.6 38.2h0M431.3 23.6h0M528.5 95.7h0M620.7 130.8h0M664.6 154.4h0M574.7 126.6h0M426.3 24.9h0M455.0 48.7h0M547.5 100.9h0M540.5 103.1h0M618.0 156.9h0M518.2 67.5h0M476.1 49.8h0M441.2 48.3h0M574.2 131.3h0M616.3 147.4h0M568.3 122.8h0M451.6 35.3h0M546.0 91.6h0M614.4 159.4h0M517.0 86.9h0M416.1 27.5h0M474.4 55.5h0M554.7 111.7h0M442.1 32.2h0M491.3 69.8h0M660.4 142.9h0M444.1 35.7h0M508.4 62.6h0M551.5 99.6h0M463.5 58.3h0M588.3 130.5h0M453.4 48.4h0M543.3 87.3h0M414.8 14.8h0M680.3 155.5h0M527.8 92.8h0M468.9 59.0h0M445.5 32.6h0M416.0 27.7h0M474.9 57.3h0M595.6 125.8h0M470.1 65.7h0M629.9 141.0h0M670.8 158.2h0M536.9 82.7h0M440.8 47.5h0M489.2 66.0h0M563.9 116.8h0M496.5 62.3h0M552.7 89.5h0M560.5 126.5h0M451.6 44.9h0M480.7 60.1h0M553.0 103.0h0M523.9 101.7h0M523.2 73.8h0M442.0 35.4h0M614.7 164.4h0M411.2 21.9h0M573.5 133.3h0M478.7 46.2h0M577.6 108.6h0M483.3 74.9h0M585.0 140.4h0M546.0 79.6h0M646.0 141.7h0M565.7 103.8h0M611.9 156.4h0M491.6 78.5h0M563.3 127.8h0M558.8 112.3h0M460.9 47.2h0M576.5 112.6h0M529.8 81.2h0M619.7 160.1h0M522.8 70.6h0M603.0 130.3h0M483.8 63.5h0M494.1 73.8h0M533.1 87.0h0M428.6 24.4h0M508.4 90.6h0M610.8 156.8h0M554.0 100.3h0M628.0 153.1h0M622.1 121.5h0M437.8 43.0h0M472.5 67.1h0M570.2 115.6h0M510.6 69.7h0M583.2 139.0h0M517.4 90.1h0M459.1 48.5h0M478.3 48.2h0M534.0 102.8h0M609.7 124.2h0M407.9 19.4h0M525.1 89.1h0M533.3 98.6h0M619.1 154.4h0M421.2 24.9h0M501.8 63.4h0M563.6 94.1h0M461.0 41.4h0M554.3 115.1h0M471.1 59.6h0M527.8 89.2h0M533.6 98.1h0M437.6 27.8h0M530.4 78.7h0M521.1 94.0h0M463.8 49.0h0M402.3 19.5h0M582.7 124.7h0M512.3 90.4h0M519.1 69.8h0M495.7 78.8h0M494.6 81.3h0M535.4 98.5h0M532.9 100.2h0M494.1 59.6h0M538.1 109.3h0M493.7 65.8h0M510.8 92.9h0M493.3 72.0h0M408.4 26.3h0M426.2 28.7h0M617.1 132.8h0M516.1 86.4h0M446.2 51.7h0M548.0 89.6h0M596.5 119.7h0M492.4 67.6h0M504.6 60.4h0M619.9 160.2h0M624.2 144.9h0M592.6 115.8h0M513.4 76.1h0M491.6 53.8h0M425.2 20.5h0M565.5 102.4h0M459.6 42.5h0M576.7 97.7h0M600.4 149.3h0M520.8 83.3h0M543.4 91.4h0M550.1 92.5h0M474.2 42.3h0M483.2 53.6h0M483.7 51.0h0M550.6 101.3h0M599.8 110.2h0M573.2 133.4h0M545.3 78.9h0M433.5 26.9h0M497.3 57.1h0M512.1 81.2h0M560.2 129.5h0M589.0 164.3h0M516.7 71.7h0M587.8 132.3h0M513.1 74.8h0M470.2 50.9h0M435.0 24.5h0M481.4 68.3h0M514.3 61.8h0M570.7 99.2h0M605.2 166.6h0M505.3 76.8h0M483.0 61.7h0M528.5 102.1h0M497.6 57.0h0M470.5 47.8h0M572.1 113.8h0M472.0 52.8h0M568.3 94.5h0M552.0 117.4h0M484.9 59.2h0M585.9 116.7h0M485.5 63.3h0M595.3 120.1h0M553.1 122.2h0M434.9 39.3h0M513.4 93.3h0M458.9 46.3h0M519.1 74.4h0M423.5 32.3h0M431.8 37.9h0M529.2 84.8h0M566.1 101.5h0M453.8 36.1h0M533.3 82.1h0M565.6 100.1h0M595.5 131.9h0M510.1 70.6h0M670.2 157.1h0M659.7 146.7h0M589.9 122.4h0M490.9 70.5h0M452.4 53.9h0M459.9 39.5h0M619.9 135.9h0M422.1 31.7h0M506.7 80.7h0M594.9 153.7h0M463.7 55.5h0M442.4 49.5h0M470.9 61.7h0M565.7 123.6h0M548.1 112.5h0M433.6 29.5h0M448.9 51.5h0M539.8 106.5h0M530.2 80.9h0M567.7 105.9h0M466.0 44.1h0M529.2 91.6h0M591.3 114.5h0M645.9 167.4h0M575.0 114.0h0M606.3 160.0h0M461.3 47.4h0M518.2 80.4h0M654.0 153.3h0M544.9 102.5h0M449.1 43.3h0M497.9 71.0h0M458.4 48.3h0M591.4 139.6h0M449.7 45.1h0M509.7 56.0h0M518.5 97.7h0M521.9 70.0h0M420.3 26.1h0M457.2 38.9h0M459.5 56.4h0M511.6 81.9h0M620.2 158.9h0M567.4 105.3h0M511.7 75.2h0M488.1 58.0h0M587.5 127.7h0M550.8 120.0h0M563.2 105.0h0M610.4 136.7h0M420.1 29.5h0M587.5 106.1h0M667.3 156.0h0M521.6 71.9h0M430.5 28.5h0M435.6 24.4h0M617.2 136.3h0M456.3 42.6h0M579.1 125.8h0M574.4 104.4h0M502.6 55.7h0M465.6 65.5h0M441.3 29.2h0M478.3 59.8h0M549.0 93.4h0M593.6 104.2h0M517.9 85.4h0M441.9 37.6h0M590.7 133.1h0M523.1 69.2h0M510.7 73.8h0M570.2 98.1h0M414.5 20.7h0M456.3 46.9h0M413.1 14.1h0M472.7 63.7h0M516.4 84.7h0M456.8 59.1h0M412.9 20.9h0M430.9 34.4h0M492.9 77.2h0M510.6 68.7h0M455.5 51.8h0M519.9 86.1h0M549.0 105.7h0M490.7 85.7h0M526.0 86.4h0M457.8 54.5h0M494.4 70.6h0M498.0 73.5h0M556.5 119.4h0M580.3 117.0h0M486.6 56.8h0M555.7 90.6h0M470.4 47.7h0M607.7 155.2h0M442.7 43.6h0M541.8 94.9h0M467.6 64.7h0M485.5 81.8h0M495.5 86.4h0M457.1 56.8h0M526.9 89.2h0M614.1 121.0h0M655.9 159.6h0M438.6 29.6h0M429.9 27.6h0M498.6 71.2h0M637.1 161.5h0M569.5 101.2h0M491.9 51.1h0M640.6 140.7h0M609.5 135.1h0M502.4 66.8h0M635.8 140.4h0M589.1 104.8h0M562.5 90.2h0M577.2 99.3h0M630.0 155.1h0M566.8 101.6h0M555.1 97.5h0M514.9 70.0h0M642.5 144.3h0M474.7 61.1h0M606.2 134.6h0M469.9 60.8h0M466.0 53.4h0M465.8 46.5h0M614.4 131.0h0M568.7 99.7h0M471.6 47.5h0M451.6 52.3h0M561.0 128.5h0M446.4 40.9h0M621.1 139.5h0M443.2 39.6h0M556.0 92.3h0M463.1 52.2h0M551.8 111.2h0M620.2 130.0h0M595.4 105.3h0M546.7 99.9h0M520.9 98.4h0M508.8 92.5h0M563.9 134.1h0M576.0 106.3h0M553.5 84.7h0M516.7 91.9h0M571.5 132.0h0M491.3 66.3h0M473.1 49.8h0M421.4 28.9h0M458.8 56.7h0M652.5 152.2h0M548.8 98.7h0M497.0 56.8h0M641.2 147.5h0M428.2 33.1h0M486.1 71.2h0M506.5 68.5h0M470.7 41.8h0M589.7 120.0h0M474.6 60.0h0M518.6 80.9h0M652.5 142.6h0M520.6 88.3h0M469.1 44.8h0M541.2 103.1h0M600.4 152.8h0M492.9 82.1h0M429.2 22.9h0M506.2 76.1h0M587.0 100.3h0M450.3 47.8h0M482.9 50.0h0M458.6 61.2h0M614.1 165.9h0M594.9 151.9h0M446.5 35.3h0M444.0 33.0h0M467.2 65.0h0M578.1 128.9h0M432.1 23.4h0M535.8 77.1h0M563.3 97.8h0M619.5 123.5h0M649.6 159.7h0M508.0 69.0h0M598.1 171.7h0M666.1 158.5h0M671.3 155.7h0M596.9 125.1h0M546.5 79.8h0M436.5 32.0h0M533.5 101.7h0M402.1 18.4h0M583.8 125.6h0M457.5 48.2h0M517.2 96.6h0M444.8 37.9h0M585.6 118.8h0M511.0 79.1h0M498.2 92.3h0M422.3 20.3h0M562.4 91.1h0M410.8 22.6h0M481.6 55.3h0M592.2 122.5h0M514.4 69.0h0M479.1 81.9h0M599.8 148.5h0M466.1 65.9h0M664.4 149.7h0M478.9 70.5h0M467.0 69.6h0M613.5 171.0h0M406.1 17.3h0M606.4 126.0h0M534.0 105.1h0M585.2 144.9h0M505.8 81.4h0M471.4 46.8h0M510.2 74.0h0M458.8 40.7h0M414.2 18.6h0M488.3 71.4h0M550.1 121.9h0M469.8 64.7h0M438.5 39.7h0M569.7 103.6h0M404.6 15.2h0M600.7 136.4h0M403.4 21.6h0M467.8 63.0h0M510.0 63.7h0M473.0 40.3h0M526.9 85.6h0M577.1 125.5h0M520.8 98.8h0M513.8 78.9h0M544.4 114.4h0M486.4 61.7h0M503.7 59.0h0M501.5 59.8h0M474.8 52.1h0M529.9 94.8h0M670.5 151.8h0M547.0 84.1h0M436.5 37.3h0M470.9 47.5h0M521.8 73.3h0M439.0 42.5h0M550.6 91.9h0M560.3 100.4h0M547.0 113.2h0M531.7 103.0h0M474.7 49.2h0M495.2 85.6h0M472.0 68.4h0M519.5 72.7h0M603.5 118.5h0M491.5 76.4h0M564.7 109.8h0M506.7 81.3h0M515.3 68.6h0M625.3 130.3h0M476.3 52.4h0M608.5 134.5h0M435.8 23.9h0M573.2 147.5h0M493.9 63.2h0M604.5 143.8h0M433.8 23.2h0M587.6 133.1h0M593.3 120.7h0M657.4 169.5h0M569.3 118.1h0M457.2 47.3h0M561.5 114.6h0M483.4 69.8h0M663.7 169.9h0M590.3 126.6h0M535.3 94.9h0M433.2 31.0h0M495.2 66.5h0M543.4 107.5h0M632.8 139.8h0M449.0 33.8h0M481.6 52.8h0M574.4 123.6h0M662.4 155.9h0M671.9 159.8h0M478.5 55.4h0M568.7 119.5h0M452.5 33.6h0M425.8 22.9h0M544.7 99.2h0M502.0 71.6h0M540.6 76.2h0M491.6 70.0h0M400.4 12.0h0M460.1 41.9h0M411.4 18.2h0M587.9 116.1h0M431.3 24.1h0M449.5 35.1h0M426.1 23.3h0M589.2 138.4h0M542.8 97.7h0M458.0 47.1h0M460.9 44.6h0M460.0 41.3h0M449.3 45.1h0M509.2 96.1h0M624.2 140.4h0M637.8 135.5h0M650.8 137.8h0M437.7 28.7h0M577.8 123.4h0M490.6 64.7h0M529.1 112.9h0M482.6 75.7h0M559.3 124.2h0M487.0 55.0h0M605.1 151.3h0M462.8 49.7h0M495.0 71.5h0M573.7 128.7h0M440.1 37.2h0M425.3 19.5h0M437.6 22.5h0M562.7 99.5h0M645.3 137.7h0M514.7 63.7h0M507.6 61.4h0M432.7 24.4h0M436.5 40.7h0M461.6 54.8h0M524.6 98.7h0M480.7 56.4h0M491.0 52.7h0M541.9 106.8h0M610.7 148.8h0M435.3 35.3h0M443.4 45.7h0M459.0 40.4h0M589.8 108.6h0M502.6 91.6h0M600.4 133.6h0M521.8 96.9h0M452.5 40.8h0M552.5 100.9h0M457.4 51.4h0M590.0 101.0h0M456.2 54.4h0M463.4 45.6h0M597.6 139.2h0M588.7 142.2h0M545.4 101.1h0M515.2 79.8h0M558.6 122.6h0M469.6 43.8h0M413.5 19.4h0M492.2 51.5h0M547.7 115.7h0M458.9 55.5h0M568.6 134.0h0M602.0 154.7h0M497.9 69.7h0M489.0 55.1h0M442.7 47.9h0M587.3 123.7h0M497.5 82.9h0M647.8 143.2h0M517.4 79.9h0M536.2 93.4h0M486.0 62.3h0M524.7 84.3h0M569.3 121.5h0M474.2 59.0h0M546.1 88.0h0M664.4 148.2h0M497.2 49.3h0M455.3 38.8h0M620.7 139.4h0M429.2 34.2h0M653.3 145.4h0M637.9 136.3h0M491.9 63.3h0M521.5 98.1h0M449.2 49.4h0M538.7 87.7h0M410.3 19.6h0M596.0 140.6h0M437.8 41.5h0M621.9 149.0h0M464.6 50.6h0M494.0 60.0h0M410.4 18.7h0M497.6 59.0h0M426.3 25.2h0M623.0 145.9h0M589.1 100.9h0M657.6 153.7h0M510.3 95.3h0M548.6 96.7h0M524.9 87.5h0M656.6 151.4h0M532.8 89.7h0M586.1 120.3h0M484.5 60.5h0M570.5 129.4h0M572.1 124.9h0M505.2 61.1h0M466.1 57.4h0M449.4 47.9h0M587.3 149.3h0M634.6 143.4h0M461.4 56.0h0M531.6 98.3h0M547.5 118.1h0M441.1 38.9h0M606.0 141.0h0M459.3 46.7h0M553.3 86.6h0M529.2 101.5h0M564.8 125.7h0M539.6 110.3h0M451.0 37.6h0M422.9 31.6h0M558.5 111.5h0M614.6 146.3h0M519.1 104.6h0M614.5 156.3h0M680.2 153.8h0M534.4 100.6h0M485.0 72.1h0M459.9 48.9h0M538.9 88.8h0M617.7 151.1h0M414.2 20.6h0M524.3 69.5h0M666.9 149.4h0M582.0 109.7h0M566.9 131.0h0M478.5 62.7h0M417.9 23.1h0M578.6 99.6h0M593.8 143.4h0M444.2 46.4h0M440.7 31.4h0M452.4 43.8h0M534.7 109.5h0M533.5 76.6h0M498.6 88.8h0M655.2 149.0h0M571.8 118.3h0M527.7 92.1h0M457.7 52.1h0M427.2 26.4h0M517.6 63.7h0M614.0 164.3h0M563.2 98.5h0M620.2 144.9h0M473.7 46.4h0M497.8 60.9h0M517.7 96.6h0M465.3 57.2h0M547.8 78.3h0M448.2 42.6h0M530.1 80.1h0M517.3 89.8h0M484.4 76.4h0M422.9 20.1h0M481.5 49.7h0M500.4 65.1h0M478.2 67.2h0M494.2 76.2h0M489.8 66.8h0M500.8 68.4h0M467.2 61.5h0M432.6 35.8h0M441.2 34.6h0M504.8 86.5h0M564.7 127.2h0M493.8 66.8h0M468.3 62.3h0M548.7 84.2h0M476.1 68.4h0M497.3 66.5h0M593.2 121.5h0M509.1 91.1h0M485.3 67.3h0M479.5 62.0h0M541.0 108.0h0M679.3 154.7h0M534.9 81.6h0M590.0 122.9h0M403.6 15.3h0M670.0 147.6h0M521.2 97.1h0M593.2 145.1h0M660.9 145.3h0M538.9 100.7h0M600.5 111.8h0M428.5 23.4h0M599.7 112.6h0M446.1 39.8h0M415.6 16.3h0M485.2 66.7h0M517.7 89.6h0M550.3 91.4h0M457.8 53.6h0M544.6 85.1h0M414.3 22.0h0M649.7 137.0h0M616.8 142.7h0M503.4 85.9h0M490.0 77.7h0M518.7 72.2h0M641.1 148.3h0M555.2 103.2h0M581.7 98.4h0M554.4 114.9h0M676.2 149.3h0M437.6 37.9h0M609.0 128.5h0M487.6 74.4h0M430.1 21.0h0M480.4 51.5h0M431.8 30.1h0M579.2 136.3h0M555.4 111.1h0M517.8 82.7h0M590.9 118.0h0M489.1 54.6h0M522.5 81.5h0M533.7 111.5h0M517.1 97.3h0M455.5 35.3h0M568.9 143.5h0M465.3 49.5h0M430.8 22.9h0M472.0 45.9h0M499.8 80.9h0M563.0 133.5h0M532.6 107.3h0M624.4 151.7h0M530.2 82.7h0M482.6 63.0h0M611.2 128.8h0M411.9 18.1h0M458.5 54.0h0M577.4 131.6h0M482.9 52.1h0M637.2 140.3h0M429.9 25.1h0M434.5 37.1h0M484.2 85.5h0M563.4 120.6h0M599.3 137.4h0M473.1 69.0h0M494.0 60.5h0M572.3 124.6h0M545.6 97.5h0M534.5 100.9h0M555.9 116.0h0M533.1 106.2h0M435.9 28.5h0M441.3 35.5h0M507.3 60.9h0M407.6 15.2h0M490.8 75.7h0M517.3 66.6h0M663.7 156.0h0M539.5 89.3h0M451.9 37.8h0M519.8 85.7h0M519.5 72.2h0M565.0 96.4h0M564.7 115.1h0M487.1 69.2h0M592.3 162.8h0M523.1 92.5h0M414.6 17.5h0M514.1 77.7h0M450.1 49.9h0M550.2 114.5h0M564.5 128.3h0M549.8 95.9h0M489.5 62.3h0M467.6 57.4h0M431.1 39.0h0M488.8 72.5h0M530.5 76.4h0M427.9 22.5h0M589.6 143.6h0M499.9 86.7h0M430.6 24.3h0M479.0 50.0h0M453.7 40.5h0M475.0 70.4h0M492.1 72.2h0M470.9 48.0h0M425.2 26.4h0M599.1 109.6h0M560.6 134.6h0M541.0 79.9h0M570.7 116.0h0M543.7 102.6h0M531.1 73.3h0M462.4 49.5h0M535.8 97.5h0M521.7 71.5h0M584.7 109.5h0M590.4 105.7h0M557.9 93.7h0M520.1 92.1h0M431.2 30.4h0M612.4 139.4h0M523.6 88.4h0M650.6 157.7h0M429.9 24.7h0M424.8 23.7h0M545.1 79.6h0" stroke="#ff0000" stroke-width="1.6" stroke-linecap="round" fill="none"/>
<path d="M150.1 372.0h0M189.3 348.0h0M150.5 368.3h0M214.9 339.6h0M178.0 354.4h0M170.5 372.5h0M64.8 418.1h0M194.4 345.5h0M90.7 400.9h0M97.7 401.0h0M119.6 387.0h0M298.7 294.4h0M285.6 299.6h0M220.4 341.2h0M57.2 420.5h0M185.9 349.0h0M178.7 356.1h0M116.1 386.3h0M173.2 358.8h0M181.4 354.1h0M161.0 364.4h0M269.3 319.5h0M174.0 354.1h0M149.8 375.0h0M159.2 369.3h0M324.4 286.9h0M263.7 307.6h0M68.3 411.1h0M150.8 369.9h0M322.9 283.1h0M273.7 321.7h0M123.5 383.5h0M301.2 299.7h0M235.1 325.2h0M61.0 420.1h0M55.3 420.7h0M171.1 371.7h0M261.3 309.7h0M187.2 352.0h0M229.2 328.9h0M119.0 385.5h0M235.7 325.4h0M98.5 398.4h0M163.5 370.7h0M249.9 317.0h0M182.1 370.6h0M233.2 333.6h0M98.0 399.8h0M267.3 306.9h0M62.1 419.9h0M125.9 383.4h0M137.7 375.1h0M239.8 325.9h0M249.6 330.6h0M107.4 393.5h0M78.2 408.7h0M109.0 392.8h0M85.2 405.9h0M208.5 339.7h0M243.3 320.9h0M308.6 283.9h0M301.4 305.4h0M194.8 347.9h0M260.0 316.2h0M305.1 288.4h0M149.1 371.4h0M199.4 352.2h0M299.0 291.7h0M66.8 414.7h0M249.5 324.7h0M276.3 303.6h0M225.5 331.7h0M319.0 281.1h0M246.8 315.1h0M296.5 304.5h0M219.2 342.7h0M301.7 296.5h0M216.7 334.0h0M267.4 307.3h0M108.1 395.3h0M232.2 327.2h0M149.1 369.9h0M90.2 410.8h0M325.5 280.0h0M173.4 357.7h0M68.4 415.5h0M53.1 423.2h0M254.7 312.9h0M131.2 383.2h0M257.5 313.2h0M98.4 396.7h0M295.5 295.1h0M215.0 348.0h0M98.7 399.0h0M225.7 334.2h0M72.8 414.2h0M123.9 385.1h0M237.0 336.9h0M229.9 338.9h0M213.2 335.9h0M104.7 393.8h0M241.9 318.6h0M132.8 386.2h0M215.2 352.5h0M264.8 317.8h0M178.1 351.7h0M264.7 311.2h0M197.8 347.7h0M161.3 369.3h0M224.1 334.2h0M221.8 333.6h0M78.3 408.9h0M230.0 328.4h0M234.5 325.2h0M100.5 397.5h0M107.4 395.0h0M187.4 349.6h0M310.7 286.8h0M201.3 340.2h0M229.2 330.1h0M163.5 362.0h0M299.7 292.8h0M199.9 343.2h0M265.6 324.0h0M232.0 327.1h0M226.3 332.5h0M130.0 383.8h0M89.0 402.1h0M275.1 303.3h0M169.9 358.6h0M259.2 325.4h0M91.3 416.9h0M79.8 415.4h0M288.8 296.6h0M157.4 373.1h0M152.3 368.9h0M190.1 347.5h0M219.8 339.4h0M274.1 306.4h0M162.5 361.2h0M266.2 310.9h0M159.9 374.1h0M202.2 340.5h0M250.1 315.1h0M177.9 354.3h0M304.1 291.6h0M300.6 299.9h0M267.2 324.8h0M132.7 380.6h0M154.1 371.1h0M285.2 303.7h0M223.0 335.0h0M303.8 291.6h0M279.6 299.5h0M88.9 402.6h0M155.5 382.5h0M162.4 362.1h0M109.8 392.9h0M138.8 375.0h0M53.9 422.2h0M263.6 326.6h0M213.3 336.9h0M257.7 324.6h0M213.3 336.8h0M143.1 376.0h0M144.6 373.9h0M164.7 364.0h0M294.0 296.2h0M199.2 343.2h0M101.0 400.2h0M157.4 365.4h0M300.0 288.5h0M188.7 363.1h0M320.3 276.6h0M205.3 345.3h0M314.5 284.8h0M302.3 307.7h0M99.6 397.4h0M278.8 302.7h0M52.3 421.8h0M201.0 363.1h0M64.8 418.0h0M162.7 363.0h0M248.4 317.2h0M244.3 319.7h0M252.8 318.8h0M207.5 346.6h0M229.9 329.5h0M77.8 412.9h0M238.8 320.6h0M99.3 398.9h0M282.8 299.5h0M166.5 360.0h0M316.9 295.3h0M155.8 380.5h0M173.5 355.8h0M61.2 417.2h0M149.9 372.0h0M268.1 307.7h0M256.4 314.6h0M208.8 343.1h0M278.7 302.6h0M164.1 361.5h0M108.6 391.2h0M236.6 333.8h0M300.7 297.8h0M87.5 409.4h0M162.0 362.6h0M79.1 408.1h0M318.4 284.0h0M118.2 387.2h0M251.3 316.9h0M320.4 284.8h0M80.9 407.1h0M228.1 343.7h0M270.5 313.5h0M158.1 366.2h0M285.2 311.4h0M253.4 314.4h0M291.2 299.0h0M241.3 319.2h0M171.6 360.1h0M250.8 320.3h0M129.5 383.4h0M104.4 396.9h0M84.3 406.8h0M311.6 290.7h0M178.2 355.4h0M288.3 296.0h0M281.2 300.3h0M290.4 294.9h0M246.6 333.4h0M162.6 364.0h0M149.2 370.3h0M248.0 317.1h0M155.2 389.4h0M237.9 324.2h0M205.2 341.0h0M259.5 327.9h0M120.5 393.0h0M251.0 318.0h0M118.1 388.0h0M325.2 287.9h0M115.8 388.3h0M165.5 366.3h0M127.4 383.5h0M325.9 278.2h0M182.2 354.3h0M196.3 349.1h0M230.8 324.8h0M253.3 322.7h0M248.3 323.6h0M139.9 378.3h0M173.3 359.7h0M312.3 301.2h0M116.5 400.4h0M166.9 360.3h0M289.1 296.7h0M226.0 331.3h0M165.9 368.6h0M187.7 349.8h0M97.0 400.1h0M123.2 391.6h0M328.3 273.4h0M201.4 351.0h0M89.4 403.6h0M150.6 368.1h0M119.0 386.5h0M71.9 412.3h0M321.0 283.6h0M154.8 370.6h0M309.1 304.0h0M157.4 365.1h0M309.9 289.0h0M201.7 340.2h0M170.3 366.4h0M164.4 363.3h0M182.0 350.8h0M204.4 344.8h0M137.6 376.6h0M186.5 349.6h0M124.1 396.8h0M246.7 320.4h0M170.8 358.5h0M266.7 305.9h0M121.1 384.4h0M284.5 317.4h0M295.3 310.6h0M298.3 291.5h0M288.2 309.8h0M64.3 416.5h0M265.9 305.7h0M52.0 422.6h0M134.7 380.3h0M107.1 397.0h0M195.5 347.0h0M234.6 335.1h0M51.9 423.3h0M289.5 299.4h0M233.1 331.0h0M238.5 325.0h0M53.6 421.0h0M136.4 378.8h0M66.0 415.1h0M64.8 416.0h0M287.2 301.4h0M79.8 409.8h0M275.3 304.0h0M142.8 376.6h0M325.1 278.6h0M111.9 390.6h0M196.0 345.2h0M100.6 397.0h0M97.5 399.4h0M214.1 334.8h0M327.8 275.9h0M210.6 343.0h0M59.2 422.9h0M309.6 286.0h0M223.9 331.0h0M317.5 282.5h0M143.5 372.9h0M123.7 383.3h0M244.2 321.6h0M176.9 355.9h0M161.7 364.8h0M106.1 402.1h0M147.6 370.4h0M211.6 336.7h0M183.1 352.9h0M261.7 325.4h0M193.8 346.7h0M90.5 402.5h0M323.6 277.7h0M240.1 319.0h0M172.1 355.6h0M317.0 281.9h0M235.2 325.0h0M225.4 330.8h0M82.3 407.5h0M324.3 293.0h0M140.2 375.6h0M303.6 296.1h0M282.2 304.6h0M263.5 306.4h0M217.1 343.7h0M150.6 371.6h0M101.2 396.8h0M287.7 308.4h0M224.6 346.9h0M105.1 395.2h0M279.9 315.8h0M250.6 315.6h0M321.0 282.1h0M206.9 341.8h0M113.0 391.1h0M89.4 404.1h0M155.0 385.4h0M137.8 375.6h0M277.7 301.6h0M118.7 392.6h0M232.5 333.5h0M154.8 382.2h0M238.9 328.3h0M205.4 352.9h0M294.5 300.2h0M159.5 386.7h0M201.4 342.9h0M109.2 392.5h0M327.9 276.3h0M227.8 329.1h0M247.6 322.8h0M179.9 360.9h0M266.7 307.4h0M306.0 290.8h0M268.4 306.9h0M135.2 378.5h0M269.4 304.6h0M136.4 375.4h0M124.2 385.9h0M130.1 381.0h0M123.6 391.2h0M315.1 285.8h0M203.4 342.3h0M109.1 391.9h0M258.3 314.0h0M292.3 297.0h0M273.1 305.8h0M201.5 345.3h0M134.7 387.7h0M314.5 286.4h0M276.4 302.5h0M99.3 398.4h0M318.5 297.9h0M94.0 400.7h0M90.5 403.0h0M268.4 307.1h0M245.8 327.9h0M234.9 327.6h0M278.7 301.6h0M92.3 400.5h0M266.7 318.6h0M250.2 317.2h0M300.0 291.1h0M80.5 405.7h0M146.9 372.9h0M65.3 415.7h0M60.9 422.1h0M66.8 416.4h0M90.7 402.9h0M325.8 282.9h0M182.4 357.9h0M253.9 319.2h0M228.7 328.4h0M307.3 293.0h0M292.6 295.7h0M252.0 327.2h0M143.6 379.7h0M230.2 327.9h0M140.5 377.9h0M225.5 341.3h0M114.7 394.9h0M238.4 323.5h0M141.9 372.8h0M294.7 296.9h0M283.9 299.0h0M148.1 369.4h0M163.8 360.7h0M222.4 333.5h0M62.8 417.5h0M249.8 332.2h0M115.1 389.1h0M216.4 337.8h0M109.9 391.2h0M241.6 321.7h0M190.7 355.8h0M301.4 289.4h0M257.3 310.8h0M187.1 356.8h0M65.3 428.6h0M181.2 350.0h0M59.6 418.3h0M324.1 286.9h0M103.3 395.2h0M204.2 341.1h0M274.0 304.0h0M275.8 306.3h0M103.9 400.6h0M120.1 388.6h0M104.7 394.6h0M325.1 279.0h0M212.1 349.1h0M98.9 398.6h0M302.0 289.6h0M294.9 292.9h0M175.0 375.7h0M248.8 321.6h0M295.3 295.7h0M173.4 358.4h0M311.9 298.3h0M109.8 406.0h0M194.2 346.4h0M256.3 317.6h0M231.4 326.0h0M262.0 322.3h0M87.1 401.3h0M73.3 411.9h0M130.6 379.1h0M270.4 309.0h0M87.5 403.2h0M325.1 277.2h0M253.8 327.4h0M90.8 400.7h0M123.6 384.1h0M171.0 358.6h0M127.4 380.4h0M72.8 423.3h0M223.7 329.0h0M214.5 335.8h0M271.1 304.8h0M123.5 385.6h0M278.8 301.1h0M326.0 278.3h0M131.8 392.2h0M156.8 364.1h0M181.1 351.0h0M225.7 335.0h0M288.2 296.2h0M296.6 292.6h0M326.4 282.3h0M252.1 323.3h0M124.4 392.3h0M294.2 304.2h0M200.2 343.0h0M133.3 384.4h0M241.2 328.9h0M166.8 357.8h0M111.9 392.1h0M61.0 418.7h0M152.5 371.6h0M51.6 429.4h0M255.8 328.8h0M138.7 378.1h0M215.4 338.2h0M173.9 355.0h0M304.4 297.6h0M127.0 392.2h0M301.3 291.8h0M66.6 421.6h0M61.8 418.1h0M280.0 318.8h0M169.3 361.9h0M155.3 370.4h0M297.5 303.4h0M314.4 283.2h0M324.7 280.0h0M274.3 315.3h0M292.7 299.8h0M262.1 312.1h0M308.5 283.8h0M93.5 406.6h0M205.2 345.9h0M197.3 343.4h0M287.9 302.7h0M213.9 336.6h0M69.4 414.3h0M163.9 364.9h0M289.7 299.2h0M127.5 379.8h0M140.5 381.9h0M266.7 320.3h0M292.5 295.2h0M81.8 406.2h0M281.4 301.7h0M230.8 343.1h0M214.7 332.0h0M75.1 411.6h0M283.1 303.0h0M279.0 301.3h0M315.3 289.5h0M158.8 364.9h0M150.2 369.6h0M148.6 384.1h0M244.2 318.0h0M238.6 325.7h0M101.6 395.4h0M258.0 313.1h0M78.3 412.0h0M327.3 274.4h0M196.8 346.0h0M253.8 313.6h0M318.8 281.9h0M286.8 296.3h0M172.6 358.5h0M257.6 312.9h0M159.3 363.5h0M167.0 363.8h0M170.7 358.3h0M259.5 320.3h0M95.3 414.6h0M174.4 352.6h0M113.8 404.5h0M317.3 294.6h0M146.2 370.0h0M120.5 387.4h0M213.1 343.1h0M76.7 409.8h0M274.2 312.2h0M145.0 376.4h0M107.7 394.2h0M190.6 351.5h0M78.0 420.2h0M214.6 336.0h0M204.1 361.0h0M113.6 388.0h0M176.6 354.8h0M84.6 404.9h0M317.8 292.3h0M310.4 293.3h0M225.7 335.8h0M145.1 374.2h0M206.9 346.6h0M97.4 411.9h0M209.9 345.6h0M200.7 343.0h0M182.7 351.4h0M103.0 395.7h0M168.9 363.8h0M72.9 412.4h0M313.3 284.5h0M93.5 399.9h0M159.3 370.3h0M120.5 388.0h0M176.7 372.2h0M73.8 414.4h0M287.1 307.0h0M273.4 304.6h0M325.8 274.5h0M326.4 293.9h0M116.6 390.2h0M315.6 283.2h0M242.8 323.6h0M143.7 373.3h0M162.1 363.6h0M289.7 295.8h0M166.2 364.9h0M158.6 366.1h0M226.3 330.4h0M257.1 316.9h0M123.0 384.2h0M75.2 409.9h0M139.3 376.3h0M298.0 300.9h0M271.8 318.4h0M256.8 313.3h0M295.2 292.7h0M248.7 317.6h0M175.3 355.5h0M157.3 367.7h0M253.1 316.9h0M183.4 350.6h0M117.0 386.2h0M237.8 325.7h0M221.3 331.8h0M171.4 358.9h0M164.5 361.7h0M168.2 366.7h0M328.8 279.8h0M164.4 367.4h0M150.7 391.6h0M129.2 382.3h0M306.8 300.9h0M303.7 289.8h0M196.6 345.6h0M144.9 381.4h0M70.3 420.3h0M245.4 318.1h0M192.6 347.3h0M150.3 388.4h0M170.6 364.9h0M169.2 362.0h0M290.3 296.7h0M317.8 283.8h0M310.1 285.7h0M242.0 320.5h0M90.5 403.1h0M161.3 362.9h0M281.5 303.0h0M129.5 381.3h0M212.5 334.7h0M93.4 400.2h0M74.6 411.6h0M261.1 311.8h0M285.6 317.1h0M119.4 389.0h0M313.8 283.4h0M303.5 289.9h0M139.7 375.1h0M113.9 389.1h0M166.3 379.2h0M228.6 329.6h0M94.3 398.5h0M65.8 423.9h0M195.4 355.8h0M186.1 349.3h0M317.7 281.1h0M245.2 329.7h0M254.8 312.4h0M300.3 293.1h0M291.7 295.4h0M180.2 353.0h0M214.0 334.9h0M70.3 415.1h0M173.2 356.7h0M131.6 388.3h0M63.0 414.6h0M100.1 399.6h0M258.3 329.1h0M169.1 360.8h0M152.7 368.1h0M126.5 385.1h0M160.5 363.4h0M117.9 389.2h0M251.5 329.7h0M131.2 379.7h0M203.1 341.3h0M323.8 280.3h0M188.8 360.4h0M100.6 399.0h0M181.7 350.6h0M316.5 282.3h0M214.0 342.1h0M142.2 376.0h0M111.5 391.9h0M200.2 341.6h0M187.6 364.4h0M198.8 355.0h0M81.5 407.5h0M89.3 403.4h0M292.1 292.6h0M127.6 381.4h0M113.9 390.3h0M145.4 385.3h0M263.2 323.6h0M194.0 349.6h0M104.4 397.2h0M72.6 410.4h0M243.7 328.0h0M238.4 323.8h0M221.9 333.9h0M224.5 331.0h0M319.4 286.5h0M273.6 314.7h0M149.9 384.0h0M115.7 393.6h0M89.5 410.0h0M241.9 320.7h0M239.8 325.7h0M149.1 369.0h0M69.9 413.8h0M173.8 355.8h0M240.9 320.0h0M209.6 355.0h0M211.9 342.8h0M296.3 308.7h0M312.7 280.5h0M278.9 306.7h0M141.0 373.8h0M213.4 336.9h0M263.9 307.6h0M290.0 296.2h0M223.3 349.1h0M285.6 313.3h0M62.2 417.6h0M310.8 292.4h0M65.1 415.7h0M177.2 365.5h0M303.9 289.6h0M145.3 374.0h0M250.4 333.3h0M105.9 394.3h0M68.9 419.0h0M276.0 315.3h0M285.1 300.9h0M249.9 316.7h0M258.7 313.3h0M249.3 324.1h0M233.2 342.5h0M183.1 356.1h0M314.9 285.5h0M252.1 314.0h0M139.5 374.7h0M294.7 293.2h0M91.8 399.8h0M267.2 307.2h0M161.1 366.8h0M51.2 431.9h0M141.1 378.7h0M145.9 370.4h0M182.9 351.4h0M316.4 298.8h0M302.4 289.0h0M164.4 372.4h0M285.6 299.7h0M191.2 347.3h0M159.3 365.9h0M221.3 332.4h0M274.0 303.6h0M281.9 307.0h0M117.7 386.9h0M307.4 286.9h0M279.9 302.5h0M146.2 367.2h0M159.4 365.7h0M128.3 386.4h0M211.1 338.4h0M280.3 301.9h0M188.9 357.7h0M147.0 370.9h0M319.7 289.1h0M191.7 353.8h0M120.4 384.2h0M94.0 398.7h0M308.5 294.8h0M237.2 322.4h0M169.4 359.2h0M151.5 380.6h0M269.4 307.9h0M171.9 359.4h0M97.7 404.3h0M248.8 326.6h0M243.0 322.1h0M257.4 312.9h0M261.0 313.7h0M141.2 397.9h0M131.2 377.7h0M327.5 278.6h0M153.2 380.1h0M278.7 302.1h0M319.5 277.6h0M260.8 315.2h0M62.4 418.5h0M227.6 329.5h0M217.0 334.0h0M133.2 387.6h0M142.8 371.8h0M225.2 328.7h0M116.8 394.8h0M80.8 409.5h0M174.2 355.8h0M298.6 293.6h0M54.2 422.9h0M199.1 354.4h0M194.8 346.7h0M91.2 403.8h0M228.8 328.7h0M299.7 291.6h0M248.7 317.4h0M62.9 418.5h0M296.2 304.1h0M177.1 350.5h0M104.7 396.7h0M141.1 397.7h0M54.0 419.7h0M86.0 404.6h0M197.1 344.5h0M244.8 337.1h0M166.8 359.2h0M248.2 323.7h0M268.7 318.0h0M193.1 365.5h0M121.5 386.6h0M83.5 410.2h0M60.1 418.7h0M145.6 374.6h0M294.5 307.0h0M87.3 406.5h0M273.0 304.4h0M202.6 342.0h0M238.2 325.1h0M275.7 310.4h0M123.1 396.3h0M271.3 305.2h0M268.1 309.6h0M128.5 384.2h0M137.5 385.5h0M157.7 371.7h0M53.5 423.0h0M283.9 305.1h0M125.5 395.9h0M213.2 337.0h0M52.7 424.7h0M215.6 343.7h0M53.3 424.2h0M137.6 396.7h0M102.9 401.9h0M58.5 421.1h0M154.8 366.9h0M53.5 423.0h0M181.9 361.7h0M238.1 331.1h0M165.3 361.0h0M220.9 330.0h0M139.8 376.2h0M257.6 314.3h0M214.2 342.0h0M161.9 365.1h0M296.0 310.5h0M75.1 409.3h0M290.0 315.3h0M206.9 347.4h0M173.4 360.6h0M233.9 323.0h0M225.5 348.7h0M245.0 332.4h0M303.8 296.9h0M239.0 325.5h0M156.5 369.4h0M65.4 416.2h0M138.4 375.8h0M312.3 289.1h0M158.2 365.8h0M124.4 382.1h0M246.8 318.2h0M302.0 294.5h0M146.7 379.2h0M272.1 304.7h0M137.6 378.2h0M134.5 395.8h0M135.7 375.8h0M127.9 398.1h0M130.4 380.2h0M289.4 296.2h0M103.1 397.6h0M103.8 396.1h0M160.9 363.9h0M62.6 418.7h0M67.5 416.4h0M208.0 337.5h0M170.1 370.0h0M71.8 412.7h0M163.2 364.2h0M147.2 372.2h0M106.5 391.1h0M279.4 307.0h0M157.7 363.9h0M229.5 333.8h0M296.3 290.4h0M309.8 287.8h0M176.0 356.0h0M94.1 401.9h0M258.8 319.5h0M274.1 318.0h0M242.1 328.8h0M156.9 374.4h0M292.3 291.8h0M107.9 392.0h0M165.5 360.5h0M192.6 346.7h0M318.5 291.5h0M173.6 356.5h0M238.3 324.9h0M170.5 356.5h0M194.3 345.2h0M303.7 289.7h0M103.1 394.7h0M96.3 401.4h0M244.2 333.1h0M151.0 371.4h0M139.7 374.4h0M186.7 361.7h0M106.5 395.4h0M154.7 365.6h0M192.1 358.1h0M278.6 302.2h0M138.1 376.1h0M229.6 328.9h0M97.2 400.3h0M174.0 357.1h0M327.5 278.3h0M95.8 401.1h0M257.1 313.5h0M310.0 291.4h0M228.9 329.0h0M213.9 352.8h0M166.7 359.8h0M239.9 323.9h0M108.7 394.0h0M294.0 297.8h0M298.7 301.3h0M239.2 323.4h0M164.8 367.2h0M178.2 355.4h0M238.6 324.2h0M63.9 417.4h0M102.7 395.9h0M189.5 351.0h0M263.9 318.6h0M244.9 320.7h0M252.4 317.0h0M98.5 398.3h0M281.9 300.5h0M182.5 349.3h0M69.1 427.7h0M77.0 411.4h0M81.0 407.2h0M230.3 328.9h0M132.7 378.6h0M313.2 288.6h0M188.7 349.0h0M127.4 382.8h0M170.7 365.2h0M140.4 375.6h0M65.3 417.0h0M72.5 412.7h0M202.0 341.7h0M276.7 308.5h0M282.0 300.0h0M271.9 306.3h0M58.8 419.5h0M194.6 346.0h0M279.8 298.4h0M116.9 389.3h0M319.7 287.7h0M193.7 359.5h0M153.9 368.4h0M242.5 319.7h0M271.6 303.5h0M264.8 309.3h0M127.4 384.1h0M198.7 341.2h0M207.4 355.5h0M201.6 351.6h0M254.6 313.1h0M207.1 355.8h0M217.3 336.7h0M214.8 334.1h0M194.8 344.1h0M285.1 303.1h0M226.8 340.3h0M129.8 380.1h0M190.2 347.7h0M262.1 308.2h0M236.8 324.5h0M301.1 288.6h0M164.6 363.7h0M148.8 373.2h0M288.8 300.5h0M65.5 414.0h0M269.8 309.4h0M231.4 327.4h0M285.9 306.2h0M130.4 381.6h0M254.4 316.8h0M219.7 331.7h0M220.7 335.5h0M127.3 390.7h0M309.8 284.8h0M269.5 304.3h0M141.9 374.8h0M318.0 282.5h0M264.0 307.4h0M201.1 343.3h0M220.3 333.6h0M102.0 394.5h0M247.1 318.4h0M73.4 413.8h0M76.3 408.7h0M133.0 378.6h0M272.1 303.4h0M137.5 376.0h0M313.0 290.7h0M317.4 282.2h0M107.4 394.3h0M129.8 382.4h0M265.0 313.2h0M277.3 301.2h0M174.8 354.1h0M291.7 311.2h0M84.7 408.4h0M326.4 285.8h0M223.6 333.8h0M108.6 410.1h0M180.3 364.8h0M226.0 328.9h0M89.9 404.5h0M135.2 385.4h0M250.2 331.0h0M304.4 288.1h0M317.2 286.4h0M121.1 386.5h0M188.8 349.1h0M213.7 347.4h0M301.0 308.1h0M166.1 367.7h0M71.2 414.8h0M104.4 392.8h0M248.3 322.0h0M197.1 344.2h0M110.6 391.3h0M212.9 335.7h0M139.0 393.0h0M130.7 401.2h0M270.8 305.6h0M74.7 411.1h0M216.0 336.1h0M305.7 304.0h0M176.7 355.6h0M328.0 276.7h0M304.3 291.1h0M304.3 297.8h0M117.2 394.1h0M255.4 315.1h0M250.4 316.5h0M158.7 366.0h0M309.1 290.4h0M71.1 412.5h0M117.1 386.5h0M221.2 330.9h0M305.9 298.8h0M238.4 328.4h0M227.2 334.4h0M303.2 306.8h0M78.0 415.2h0M245.2 320.1h0M315.8 285.9h0M189.3 347.2h0M89.3 402.8h0M68.9 416.2h0M249.9 316.8h0M257.5 312.6h0M139.7 377.6h0M182.7 351.0h0M266.6 311.0h0M171.5 358.6h0M260.9 310.1h0M326.5 280.1h0M113.3 389.5h0M211.8 336.4h0M267.9 306.3h0M272.6 303.1h0M123.0 389.8h0M237.9 335.3h0M163.8 362.0h0M110.4 391.1h0M62.3 418.4h0M238.6 324.4h0M131.9 379.2h0M233.2 326.4h0M314.6 284.9h0M264.7 307.8h0M94.4 411.6h0M152.4 367.0h0M139.3 378.0h0M267.0 306.9h0M246.6 328.3h0M273.9 315.7h0M253.8 316.5h0M278.4 299.3h0M285.4 299.4h0M254.7 317.1h0M91.7 412.7h0M113.1 393.9h0M147.6 373.3h0M291.3 299.7h0M314.1 288.1h0M312.8 286.7h0M272.4 313.2h0M304.8 288.6h0M131.4 381.4h0M177.2 355.3h0M152.1 368.7h0M108.1 394.1h0M170.1 357.6h0M175.2 369.2h0M104.0 395.8h0M304.5 307.4h0M312.2 287.7h0M213.5 352.8h0M133.0 377.9h0M93.7 401.3h0M130.5 392.1h0M127.6 385.8h0M226.7 344.1h0M113.4 390.9h0M221.2 330.8h0M193.9 363.9h0M130.6 385.2h0M306.7 286.2h0M266.2 311.9h0M150.9 373.5h0M137.3 376.2h0M145.6 379.0h0M261.8 310.2h0M116.5 387.4h0M129.6 391.1h0M185.0 350.5h0M292.7 295.7h0M80.7 408.2h0M142.1 372.8h0M260.3 318.0h0M82.7 407.6h0M287.6 297.7h0M121.2 388.2h0M113.2 393.1h0M307.5 294.4h0M135.2 377.8h0M217.9 345.5h0M50.6 422.4h0M183.3 350.2h0M210.1 339.8h0M222.5 331.6h0M233.2 338.5h0M272.2 305.0h0M267.6 308.5h0M220.2 335.6h0M283.8 306.2h0M290.2 298.4h0M249.0 328.4h0M140.2 375.1h0M120.4 400.9h0M288.2 315.8h0M289.3 308.2h0M82.9 404.6h0M307.0 305.5h0M243.2 321.5h0M183.1 351.2h0M319.3 280.6h0M65.9 416.6h0M136.1 376.8h0M225.4 333.5h0M172.1 365.3h0M212.9 335.7h0M71.2 414.5h0M224.5 330.5h0M211.2 338.1h0M306.8 299.9h0M235.7 337.5h0M106.9 393.7h0M221.1 346.3h0M221.7 331.1h0M300.2 291.4h0M274.1 304.8h0M280.2 299.9h0M198.7 350.8h0M176.4 355.9h0M124.1 382.7h0M257.5 317.6h0M318.2 289.7h0M234.6 327.8h0M146.1 375.9h0M122.0 386.2h0M279.9 301.2h0M239.7 329.7h0M179.7 353.5h0M304.2 288.2h0M236.2 329.3h0M284.1 299.6h0M193.5 357.5h0M290.4 308.3h0M273.9 321.6h0M283.9 303.6h0M176.6 353.0h0M192.6 350.1h0M67.0 425.9h0M250.5 330.1h0M169.9 359.4h0M93.8 400.0h0M78.9 409.7h0M260.5 317.3h0M244.0 321.0h0M305.1 290.9h0M89.6 401.7h0M147.5 373.0h0M164.9 363.3h0M121.5 399.8h0M225.3 334.7h0M139.0 375.3h0M219.7 334.2h0M298.0 288.8h0M91.9 402.8h0M70.5 414.0h0M256.1 321.1h0M320.5 279.5h0M255.9 328.3h0M87.2 406.8h0M106.4 394.5h0M113.2 391.2h0M308.6 288.5h0M118.8 387.2h0M165.8 359.5h0M218.6 345.8h0M217.8 340.3h0M261.0 317.9h0M97.4 398.9h0M321.4 277.5h0M208.8 339.4h0M83.0 406.7h0M77.1 409.9h0M241.3 329.3h0M291.4 305.5h0M245.9 319.4h0M115.2 392.5h0M53.0 422.8h0M261.2 315.5h0M98.4 415.6h0M148.6 372.8h0M172.6 369.5h0M72.0 413.4h0M232.1 327.2h0M297.8 296.8h0M210.0 338.4h0M82.8 406.2h0M248.3 320.7h0M290.8 295.9h0M125.0 382.5h0M241.4 324.0h0M195.3 345.2h0M82.2 408.0h0M290.8 297.2h0M321.8 279.0h0M308.7 288.7h0M102.3 397.7h0M325.4 278.0h0M245.3 324.8h0M264.8 305.0h0M110.4 392.6h0M279.8 313.7h0M157.8 365.7h0M274.6 317.8h0M135.0 382.1h0M147.2 374.7h0M154.1 366.0h0M61.6 418.4h0M239.9 322.6h0M310.6 282.4h0M268.1 310.1h0M280.9 316.0h0M162.4 364.7h0M313.7 294.1h0M171.1 357.5h0M205.7 354.5h0M156.5 364.7h0M74.5 424.4h0M273.0 304.6h0M152.4 383.6h0M225.4 330.2h0M149.3 369.8h0M164.4 360.9h0M119.6 387.1h0M177.4 355.1h0M307.1 292.9h0M103.7 394.8h0M129.0 384.0h0M123.4 385.1h0M162.0 361.8h0M107.4 394.5h0M227.5 327.3h0M188.6 349.4h0M184.6 352.7h0M223.7 333.1h0M175.6 372.6h0M90.3 406.1h0M71.3 412.8h0M126.7 395.3h0M309.9 300.9h0M297.7 291.9h0M272.1 315.2h0M149.1 370.9h0M143.0 373.0h0M214.7 355.4h0M280.1 299.8h0M101.9 397.0h0M308.1 300.4h0M281.8 317.6h0M220.9 337.2h0M304.5 290.9h0M247.3 320.1h0M175.4 358.0h0M206.5 337.9h0M160.2 369.3h0M250.2 317.5h0M119.6 386.3h0M118.8 387.4h0M200.3 343.9h0M317.2 286.7h0M258.6 310.6h0M235.5 334.6h0M280.4 306.6h0M119.9 386.7h0M262.3 311.5h0M272.0 314.1h0M305.3 296.5h0M305.4 300.0h0M109.2 390.3h0M218.5 353.3h0M246.3 325.1h0M194.9 354.4h0M323.4 279.7h0M210.4 340.8h0M283.6 299.5h0M122.3 384.9h0M245.9 329.0h0M103.0 394.2h0M226.9 336.1h0M209.3 346.7h0M227.4 337.1h0M218.6 347.5h0M91.9 401.2h0M222.8 332.6h0M150.8 367.7h0M324.4 275.9h0M273.4 310.2h0M196.4 352.9h0M301.5 289.9h0M255.0 317.9h0M195.0 349.2h0M201.6 361.9h0M200.9 344.2h0M155.2 382.9h0M205.3 342.9h0M60.4 420.4h0M164.7 361.9h0M117.2 393.6h0M91.4 401.2h0M204.9 347.2h0M246.0 324.9h0M227.1 346.1h0M287.4 300.2h0M155.5 366.6h0M59.6 418.1h0M135.0 381.9h0M290.7 312.8h0M285.6 297.6h0M227.9 327.6h0M62.0 416.9h0M250.0 317.0h0M98.4 407.9h0M248.9 315.2h0M290.3 301.1h0M224.5 327.5h0M152.5 370.1h0M266.3 325.3h0M76.2 410.3h0M183.9 360.8h0M279.0 306.1h0M236.0 334.9h0M208.8 336.7h0M189.0 346.9h0M187.9 349.0h0M71.5 410.9h0M242.2 321.6h0M253.0 315.0h0M199.3 342.1h0M325.2 278.3h0M225.8 328.0h0M262.4 308.4h0M268.9 314.1h0M72.2 419.9h0M85.6 405.8h0M127.4 389.6h0M156.3 367.2h0M58.3 422.1h0M303.9 289.8h0M114.9 389.7h0M148.0 371.8h0M98.8 398.8h0M180.9 361.4h0M186.8 359.7h0M297.0 292.8h0M173.4 363.3h0M305.4 300.7h0M244.2 337.1h0M132.2 382.7h0M321.9 285.2h0M232.2 342.8h0M163.6 361.1h0M135.5 378.7h0M70.1 421.1h0M264.7 306.5h0M296.4 304.0h0M222.6 333.5h0M308.7 287.2h0M285.0 295.1h0M238.2 335.1h0M261.0 309.2h0M307.0 286.9h0M309.7 284.9h0M179.9 352.3h0M293.6 307.8h0M124.5 382.6h0M282.0 299.5h0M257.3 317.9h0M205.6 342.7h0M85.4 405.1h0M321.2 279.1h0M287.2 300.1h0M200.0 344.4h0M172.9 357.7h0M231.8 335.5h0M292.8 293.4h0M284.1 298.3h0M257.5 327.1h0M166.8 381.1h0M190.4 347.1h0M225.9 341.5h0M95.2 401.5h0M316.2 282.3h0M114.2 392.7h0M283.8 298.3h0M295.3 298.1h0M304.3 303.0h0M74.2 412.0h0M95.4 416.7h0M202.8 341.8h0M196.8 348.0h0M151.9 370.3h0M244.7 318.2h0M186.3 349.6h0M64.1 417.8h0M94.9 399.7h0M239.5 321.8h0M262.8 308.6h0M106.0 397.1h0M148.7 372.9h0M113.1 391.1h0M319.5 281.7h0M133.5 384.4h0M204.2 340.4h0M299.0 290.8h0M287.1 305.0h0M96.0 397.3h0M262.1 310.2h0M229.7 329.9h0M114.5 388.7h0M242.9 323.0h0M185.8 348.5h0M214.0 336.4h0M116.9 387.5h0M244.4 323.7h0" stroke="#ff0000" stroke-width="1.6" stroke-linecap="round" fill="none"/>
<path d="M462.4 390.9h0M607.6 312.7h0M494.7 385.4h0M560.0 334.2h0M609.7 318.6h0M450.5 394.1h0M459.7 392.6h0M578.3 334.0h0M448.1 397.1h0M595.9 316.8h0M459.8 395.7h0M536.2 348.1h0M579.2 335.7h0M665.1 284.5h0M478.9 390.2h0M551.9 343.4h0M580.9 325.2h0M571.2 325.7h0M511.3 377.0h0M581.4 324.2h0M536.9 347.5h0M583.2 331.7h0M651.2 288.4h0M620.4 305.4h0M455.2 391.3h0M507.2 371.1h0M547.0 340.6h0M539.4 352.7h0M419.2 404.0h0M483.2 384.6h0M616.2 309.4h0M537.0 354.3h0M458.9 397.8h0M515.3 364.8h0M582.3 330.0h0M572.0 336.5h0M525.0 368.2h0M447.9 402.7h0M535.2 359.1h0M549.4 347.9h0M545.0 347.1h0M638.7 288.3h0M571.0 337.9h0M598.1 316.3h0M655.8 292.2h0M642.1 296.6h0M609.4 306.5h0M531.0 350.2h0M619.0 304.7h0M552.9 333.1h0M554.2 335.7h0M453.3 397.6h0M551.8 345.2h0M521.0 361.3h0M670.8 275.6h0M527.0 349.5h0M428.5 414.5h0M659.5 286.7h0M459.7 402.7h0M613.1 313.3h0M500.3 371.9h0M657.4 278.4h0M653.8 284.4h0M628.3 310.0h0M471.2 397.0h0M476.5 386.8h0M525.5 354.1h0M527.7 354.5h0M609.3 315.0h0M561.2 340.5h0M562.2 340.5h0M434.5 405.0h0M578.0 328.3h0M510.0 368.9h0M573.8 330.9h0M455.8 394.0h0M488.5 390.4h0M416.6 424.1h0M613.9 303.9h0M490.8 373.6h0M552.9 342.2h0M560.5 336.6h0M541.9 344.9h0M645.1 294.6h0M494.0 381.4h0M539.4 351.8h0M632.0 305.9h0M456.2 399.6h0M642.7 294.3h0M570.7 342.0h0M520.8 367.0h0M581.1 326.8h0M644.6 289.9h0M506.6 376.6h0M582.8 327.1h0M574.9 333.9h0M622.9 302.6h0M619.0 307.6h0M424.5 410.5h0M562.2 334.2h0M533.5 359.6h0M470.2 392.3h0M590.1 315.2h0M632.0 298.1h0M527.5 353.3h0M556.3 345.2h0M574.6 336.7h0M640.5 293.5h0M556.9 339.8h0M650.4 296.3h0M443.9 411.4h0M560.2 340.9h0M512.1 366.6h0M524.7 353.7h0M597.6 313.7h0M599.2 328.4h0M668.9 276.8h0M541.0 352.0h0M631.8 303.3h0M622.7 305.3h0M427.4 415.0h0M562.4 336.4h0M594.8 326.6h0M493.6 385.6h0M586.0 330.9h0M559.7 347.0h0M608.7 320.3h0M525.8 357.5h0M659.8 278.5h0M600.5 328.1h0M419.9 413.1h0M550.7 337.8h0M574.5 339.8h0M583.7 320.5h0M667.9 278.9h0M449.5 396.0h0M434.2 414.1h0M438.8 407.7h0M540.6 343.5h0M545.7 344.9h0M602.8 317.0h0M504.4 370.7h0M561.4 332.5h0M592.0 322.4h0M594.0 328.3h0M598.7 328.6h0M542.3 346.7h0M507.7 367.1h0M636.5 300.2h0M440.9 403.7h0M489.4 384.3h0M498.8 376.7h0M626.5 308.1h0M633.7 303.9h0M511.0 376.4h0M437.5 405.3h0M588.3 316.8h0M654.0 286.8h0M580.5 323.6h0M458.3 398.4h0M516.6 368.5h0M631.2 304.0h0M637.3 303.6h0M533.9 354.4h0M604.5 314.2h0M476.7 385.7h0M537.5 345.1h0M600.8 314.8h0M556.0 330.1h0M623.5 311.1h0M481.5 383.4h0M432.3 416.4h0M552.2 344.8h0M612.3 304.4h0M496.6 380.8h0M598.9 326.2h0M639.3 299.9h0M638.0 301.3h0M599.4 320.5h0M450.7 393.1h0M597.0 316.3h0M474.9 379.1h0M640.0 296.1h0M481.8 378.4h0M504.7 371.4h0M642.4 288.3h0M659.4 295.0h0M604.1 316.9h0M612.9 304.3h0M490.4 374.4h0M545.3 343.7h0M567.4 326.4h0M601.3 314.9h0M443.4 406.3h0M623.2 303.9h0M525.4 357.6h0M545.5 354.8h0M431.3 414.9h0M439.4 411.8h0M539.8 347.2h0M569.1 327.1h0M588.0 328.3h0M624.6 309.3h0M540.5 343.4h0M471.5 395.1h0M543.7 357.3h0M473.0 392.7h0M599.3 307.4h0M621.6 306.0h0M458.9 399.8h0M447.0 410.9h0M535.5 348.1h0M538.4 344.0h0M588.2 317.0h0M665.2 294.1h0M577.1 331.3h0M427.4 408.4h0M574.5 320.5h0M461.7 393.4h0M624.1 301.8h0M530.0 349.7h0M521.5 365.6h0M422.4 422.2h0M608.3 305.1h0M586.8 323.0h0M594.2 316.1h0M491.9 386.2h0M645.4 294.8h0M509.0 373.5h0M494.4 373.8h0M599.9 314.1h0M574.9 340.1h0M601.3 311.3h0M473.9 387.2h0M625.9 310.2h0M473.0 388.2h0M657.2 293.4h0M653.2 290.4h0M477.8 385.3h0M655.3 294.9h0M564.2 329.9h0M570.1 339.2h0M445.6 408.3h0M517.7 372.2h0M418.8 412.4h0M498.4 368.7h0M576.0 323.2h0M424.7 417.6h0M656.5 288.0h0M507.5 375.8h0M652.2 287.2h0M623.5 304.1h0M562.8 333.5h0M531.9 353.4h0M650.3 293.5h0M586.9 320.5h0M548.0 343.3h0M608.4 322.9h0M591.4 323.1h0M492.7 384.7h0M618.0 301.8h0M578.2 329.4h0M614.8 312.1h0M608.0 314.1h0M670.2 282.6h0M450.1 397.2h0M540.9 350.9h0M579.9 319.0h0M494.6 376.6h0M669.4 282.9h0M642.1 299.7h0M668.1 284.9h0M657.7 284.0h0M675.7 274.3h0M529.0 361.6h0M505.4 371.9h0M573.3 331.7h0M474.0 388.4h0M496.1 378.0h0M414.1 427.0h0M472.2 385.9h0M549.3 344.5h0M662.2 279.8h0M633.6 294.7h0M597.9 323.6h0M616.8 320.5h0M530.1 358.0h0M653.8 290.9h0M527.8 362.4h0M589.0 320.8h0M557.5 342.9h0M650.8 295.5h0M529.3 355.1h0M518.0 360.0h0M564.1 334.7h0M573.9 332.0h0M527.0 362.8h0M641.7 299.1h0M561.3 343.6h0M582.7 317.1h0M532.0 353.8h0M526.4 352.1h0M571.8 328.0h0M588.4 325.6h0M573.7 331.4h0M613.1 307.2h0M514.9 361.8h0M466.5 387.4h0M572.6 332.1h0M598.5 322.2h0M543.9 347.5h0M512.0 362.5h0M570.4 334.3h0M669.7 283.6h0M637.0 299.1h0M600.2 318.9h0M441.9 401.0h0M565.6 331.8h0M548.0 347.1h0M534.8 354.2h0M658.4 286.1h0M578.7 332.3h0M554.7 345.0h0M579.8 326.1h0M483.7 390.2h0M599.7 317.2h0M421.7 408.1h0M543.7 343.4h0M540.6 352.9h0M522.3 362.1h0M579.2 333.8h0M658.6 293.8h0M563.2 342.6h0M657.3 282.3h0M473.6 383.2h0M589.4 331.9h0M461.7 402.5h0M574.4 325.9h0M496.7 375.2h0M552.9 342.0h0M603.2 316.1h0M430.6 399.0h0M553.1 345.9h0M569.0 327.5h0M429.7 408.9h0M558.4 330.1h0M595.6 318.4h0M619.5 298.9h0M575.1 343.4h0M497.0 380.3h0M612.9 311.4h0M561.5 330.9h0M535.4 357.1h0M587.7 329.8h0M574.6 332.5h0M668.1 293.7h0M487.6 390.4h0M662.7 277.4h0M574.6 331.2h0M649.1 284.4h0M607.2 322.8h0M471.5 394.4h0M467.5 391.8h0M650.4 294.3h0M613.7 319.0h0M494.0 373.6h0M578.1 325.6h0M429.1 404.9h0M638.2 291.4h0M623.6 299.9h0M530.3 361.2h0M537.9 347.9h0M463.4 386.0h0M650.0 296.5h0M675.0 270.3h0M625.3 302.9h0M435.0 408.7h0M558.7 339.3h0M558.8 343.7h0M615.6 308.2h0M628.8 302.2h0M634.2 304.9h0M484.1 372.4h0M657.8 290.6h0M520.7 368.2h0M575.0 335.4h0M629.6 299.1h0M613.4 305.4h0M657.0 296.1h0M476.7 393.4h0M555.5 335.6h0M516.6 366.6h0M531.7 358.1h0M653.3 295.0h0M531.1 362.3h0M486.1 387.8h0M594.7 322.8h0M576.0 323.6h0M434.6 399.4h0M510.9 372.7h0M615.8 316.6h0M620.1 309.9h0M621.1 298.8h0M437.7 411.6h0M510.7 364.9h0M671.3 282.7h0M543.0 354.9h0M603.1 319.2h0M611.1 307.7h0M571.9 330.0h0M624.7 301.2h0M528.6 347.3h0M657.9 294.3h0M670.9 279.2h0M587.1 330.5h0M643.9 289.6h0M488.0 374.7h0M525.4 366.9h0M557.7 337.6h0M477.5 385.7h0M666.4 282.5h0M616.8 307.6h0M532.9 344.8h0M464.8 400.2h0M509.7 368.9h0M569.8 334.8h0M607.9 313.8h0M494.6 378.2h0M518.8 365.5h0M464.5 388.1h0M643.0 296.6h0M502.9 365.3h0M652.6 290.4h0M574.8 332.2h0M574.7 324.8h0M644.5 301.7h0M476.3 390.8h0M558.4 332.3h0M657.9 288.2h0M486.1 381.7h0M583.1 322.0h0M552.9 346.2h0M507.6 364.7h0M430.4 397.0h0M529.5 354.2h0M520.3 365.5h0M454.5 398.3h0M583.3 335.2h0M576.0 333.1h0M463.2 399.8h0M507.7 370.9h0M586.4 332.8h0M428.3 404.9h0M439.4 409.1h0M429.4 404.8h0M499.8 376.6h0M434.4 412.4h0M407.2 416.8h0M516.0 363.3h0M422.0 405.5h0M545.8 347.3h0M601.9 318.0h0M570.6 333.3h0M612.7 313.4h0M438.8 401.2h0M637.3 307.1h0M580.4 322.4h0M635.8 306.0h0M456.1 400.6h0M493.3 382.1h0M457.5 395.7h0M475.1 380.4h0M499.3 371.5h0M529.4 356.0h0M507.7 371.6h0M480.9 378.0h0M619.7 304.4h0M599.2 319.1h0M549.6 352.3h0M582.0 335.9h0M430.2 409.0h0M600.4 318.8h0M644.1 304.0h0M604.0 325.8h0M616.1 316.4h0M557.7 332.0h0M647.2 296.4h0M549.1 347.1h0M562.3 337.5h0M618.7 309.8h0M432.8 404.3h0M428.4 412.7h0M501.0 383.5h0M639.7 297.5h0M545.3 347.6h0M488.7 373.0h0M549.3 350.3h0M633.0 307.0h0M586.0 330.1h0M458.6 391.7h0M660.4 297.3h0M656.5 289.5h0M531.1 351.3h0M454.1 398.7h0M530.4 352.7h0M476.3 391.2h0M551.8 340.8h0M544.3 345.7h0M586.9 316.1h0M490.9 374.5h0M669.0 280.9h0M598.0 317.2h0M566.4 328.5h0M632.2 310.4h0M580.4 323.1h0M473.0 383.1h0M632.6 300.2h0M416.9 415.4h0M614.4 303.6h0M426.6 414.3h0M661.3 286.7h0M533.2 353.5h0M661.2 291.8h0M614.1 317.5h0M496.9 382.5h0M556.2 341.7h0M439.5 412.4h0M580.1 322.9h0M636.4 292.8h0M657.5 285.2h0M543.1 357.5h0M467.6 387.6h0M424.3 408.4h0M489.8 374.2h0M657.3 287.2h0M614.5 308.1h0M532.2 346.6h0M528.5 364.3h0M427.6 414.3h0M581.1 322.7h0M614.5 311.3h0M624.3 303.8h0M481.7 380.7h0M448.4 406.7h0M493.4 373.5h0M637.3 307.0h0M543.0 344.5h0M429.2 409.6h0M558.3 341.8h0M653.8 288.8h0M607.5 311.3h0M515.0 373.6h0M645.0 292.1h0M583.1 319.4h0M441.4 405.1h0M637.6 289.2h0M589.3 321.4h0M527.1 358.1h0M605.3 320.0h0M477.2 390.6h0M619.1 312.1h0M547.4 350.3h0M669.0 284.3h0M422.5 413.7h0M543.7 356.1h0M602.8 312.0h0M641.2 305.5h0M653.9 294.6h0M603.1 319.8h0M486.1 385.3h0M592.1 323.0h0M450.6 395.0h0M415.8 413.2h0M555.4 335.9h0M624.3 300.3h0M586.5 323.0h0M503.8 374.1h0M596.1 319.5h0M543.9 351.2h0M493.6 379.8h0M620.7 300.9h0M601.0 326.3h0M523.3 368.1h0M531.7 364.7h0M575.0 331.3h0M636.8 295.8h0M424.3 419.8h0M661.2 280.8h0M473.0 392.6h0M614.2 310.8h0M514.4 363.1h0M577.5 327.0h0M464.6 386.4h0M555.2 344.7h0M447.7 400.5h0M514.4 365.7h0M432.9 408.4h0M570.4 332.0h0M486.5 390.9h0M513.2 363.1h0M620.8 298.5h0M500.3 383.4h0M562.4 330.2h0M431.4 412.5h0M575.4 326.2h0M471.4 380.5h0M590.9 317.5h0M579.0 323.4h0M550.6 335.0h0M655.1 280.5h0M551.6 347.9h0M430.5 415.4h0M528.9 355.6h0M434.5 405.2h0M476.8 378.0h0M629.6 302.7h0M589.0 330.5h0M503.9 376.7h0M581.1 322.2h0M470.2 395.9h0M547.3 353.2h0M623.1 314.3h0M614.5 312.0h0M528.0 365.1h0M477.5 385.4h0M663.0 280.5h0M551.7 346.6h0M533.3 351.9h0M435.6 410.6h0M653.1 288.4h0M592.4 313.7h0M535.6 347.9h0M627.5 310.8h0M504.5 378.1h0M602.9 314.0h0M551.1 349.1h0M536.5 352.0h0M649.9 292.9h0M559.7 332.9h0M540.3 354.0h0M614.9 303.1h0M668.1 279.5h0M488.4 387.3h0M547.7 345.6h0M574.7 329.9h0M569.2 325.7h0M568.4 326.4h0M536.5 339.7h0M532.9 355.4h0M596.2 328.8h0M516.8 362.5h0M587.8 323.2h0M552.1 347.4h0M582.0 332.0h0M658.7 290.9h0M648.6 293.8h0M464.4 400.4h0M553.3 335.1h0M616.3 311.0h0M543.3 348.0h0M488.9 384.0h0M582.7 331.2h0M592.3 321.5h0M426.3 410.8h0M446.8 405.2h0M496.1 370.0h0M571.1 337.0h0M600.5 328.8h0M661.6 295.7h0M524.5 348.2h0M624.3 301.0h0M523.3 362.9h0M446.1 411.5h0M557.0 342.3h0M537.5 354.0h0M536.3 350.4h0M619.8 308.6h0M601.7 310.1h0M609.4 318.4h0M528.4 363.1h0M502.3 372.4h0M475.8 392.4h0M559.0 341.9h0M653.7 286.1h0M598.1 314.5h0M562.8 329.9h0M485.1 381.4h0M431.2 410.2h0M576.2 338.8h0M472.4 392.8h0M569.8 340.9h0M614.6 308.4h0M655.1 286.9h0M582.4 329.2h0M587.8 316.5h0M527.3 357.6h0M421.6 417.6h0M570.0 334.4h0M595.5 320.0h0M529.7 362.1h0M601.8 313.4h0M620.5 300.9h0M503.9 366.8h0M606.8 310.4h0M530.7 365.9h0M504.5 375.3h0M597.2 325.6h0M494.9 379.6h0M593.2 319.8h0M492.1 391.2h0M499.2 369.4h0M634.2 299.2h0M545.8 347.7h0M622.4 305.3h0M571.1 333.5h0M648.2 293.5h0M636.1 297.5h0M555.4 341.5h0M526.9 357.0h0M630.1 308.3h0M556.5 335.9h0M524.1 361.0h0M476.7 394.2h0M578.0 326.0h0M417.8 423.0h0M438.9 400.3h0M489.0 377.3h0M581.2 325.6h0M612.2 308.0h0M627.0 296.6h0M461.3 390.6h0M651.0 292.2h0M565.4 339.7h0M442.2 412.3h0M609.1 311.2h0M620.0 307.2h0M593.3 319.4h0M493.5 381.7h0M512.8 364.2h0M646.9 297.1h0M616.6 316.6h0M522.3 370.3h0M560.0 341.4h0M518.7 361.7h0M623.0 301.1h0M543.1 346.1h0M499.5 376.4h0M404.9 427.4h0M504.1 367.8h0M430.2 407.1h0M616.0 314.3h0M563.9 332.6h0M426.0 410.5h0M529.2 364.5h0M623.2 303.1h0M581.7 318.2h0M619.8 311.7h0M462.9 401.1h0M624.5 310.3h0M596.4 319.4h0M536.4 344.8h0M577.5 325.6h0M404.5 425.8h0M657.5 282.4h0M630.0 301.2h0M606.3 313.2h0M563.4 332.3h0M428.3 405.8h0M518.3 368.0h0M574.3 324.1h0M599.8 318.9h0M481.3 376.3h0M503.2 379.5h0M520.0 363.0h0M459.7 397.8h0M653.8 287.8h0M513.1 366.5h0M421.5 408.8h0M573.2 338.6h0M649.7 294.9h0M656.9 287.9h0M460.7 397.2h0M623.5 309.7h0M490.7 378.1h0M517.9 358.6h0M597.2 320.7h0M594.7 328.2h0M647.1 301.9h0M600.1 317.8h0M536.9 342.2h0M514.2 365.5h0M557.9 346.9h0M639.8 297.8h0M474.4 393.1h0M575.6 324.7h0M574.9 340.2h0M527.7 363.8h0M663.6 285.2h0M618.9 310.0h0M671.5 289.9h0M592.0 323.2h0M555.3 341.7h0M607.1 312.0h0M664.4 284.1h0M644.0 291.4h0M568.6 329.9h0M581.3 328.5h0M611.1 319.0h0M554.9 341.1h0M523.6 353.7h0M559.0 343.0h0M555.8 346.3h0M607.3 317.2h0M579.0 327.3h0M574.4 324.2h0M502.2 374.3h0M497.8 371.5h0M599.7 318.7h0M540.3 343.8h0M617.2 313.3h0M434.6 412.7h0M628.4 298.7h0M533.3 346.7h0M594.7 315.2h0M571.5 333.0h0M557.3 343.7h0M609.6 302.2h0M551.1 339.3h0M481.7 385.3h0M418.0 417.6h0M650.5 294.2h0M650.6 295.0h0M576.5 321.6h0M420.4 406.8h0M520.1 362.1h0M611.5 316.1h0M446.5 407.2h0M466.4 384.0h0M586.8 325.1h0M448.6 404.2h0M512.4 366.7h0M537.3 352.3h0M524.1 362.8h0M428.4 412.4h0M523.0 353.6h0M534.0 362.0h0M574.5 336.1h0M444.7 410.0h0M597.6 320.4h0M462.7 396.9h0M601.6 315.1h0M612.2 318.0h0M618.9 310.8h0M472.7 391.2h0M525.5 359.6h0M617.8 301.3h0M614.6 314.3h0M490.1 377.0h0M632.3 298.1h0M452.5 399.3h0M637.4 305.8h0M539.0 357.4h0M606.1 308.8h0M510.2 362.5h0M469.6 397.7h0M512.2 369.8h0M531.2 363.7h0M537.5 342.8h0M546.8 340.4h0M474.7 391.7h0M509.5 371.2h0M551.5 342.4h0M547.8 334.8h0M482.2 378.7h0M586.9 324.4h0M615.6 306.4h0M655.1 288.1h0M606.6 303.1h0M429.7 402.3h0M530.3 355.9h0M596.8 318.3h0M438.4 397.1h0M644.1 296.5h0M584.5 326.7h0M582.0 330.9h0M626.8 306.1h0M492.8 376.3h0M600.2 325.4h0M558.5 336.2h0M443.8 403.7h0M548.3 344.3h0M623.6 297.0h0M532.0 357.2h0M443.5 397.4h0M565.5 341.3h0M657.9 296.0h0M567.3 340.2h0M517.7 358.3h0M617.8 314.4h0M606.2 320.4h0M599.3 322.3h0M424.2 406.3h0M452.0 408.8h0M638.4 286.2h0M641.5 292.7h0M592.7 317.5h0M482.4 389.9h0M658.0 282.5h0M560.2 342.1h0M531.0 358.0h0M478.2 378.2h0M416.2 409.2h0M583.1 329.3h0M417.9 415.7h0M419.7 409.4h0M416.8 418.2h0M478.5 392.4h0M555.8 341.7h0M648.7 295.2h0M527.6 364.0h0M666.8 286.1h0M485.0 378.2h0M617.4 307.8h0M541.6 349.2h0M639.6 303.2h0M495.3 378.9h0M564.5 330.8h0M552.0 348.5h0M660.1 280.6h0M536.8 350.1h0M664.4 288.9h0M607.8 321.2h0M494.2 381.9h0M580.4 319.9h0M569.1 325.1h0M448.8 401.8h0M594.1 324.7h0M428.3 416.1h0M583.8 328.8h0M588.8 317.6h0M409.6 419.5h0M667.6 288.6h0M476.6 391.1h0M525.0 349.8h0M461.5 389.4h0M565.2 340.6h0M618.7 309.5h0M572.8 341.8h0M626.5 309.9h0M663.1 277.0h0M581.4 328.0h0M500.8 378.4h0M595.2 320.7h0M637.2 292.1h0M521.5 358.7h0M675.9 274.5h0M466.6 391.6h0M664.1 286.5h0M595.8 316.2h0M589.6 329.1h0M627.0 299.1h0M555.6 349.0h0M489.0 385.8h0M536.0 361.2h0M567.1 334.5h0M509.4 369.8h0M594.9 321.1h0M591.9 325.7h0M594.7 325.6h0M610.6 312.1h0M541.7 356.0h0M427.2 410.6h0M554.3 343.4h0M637.3 298.4h0M613.0 306.8h0M569.2 338.9h0M632.8 308.5h0M535.2 349.6h0M524.9 367.8h0M507.6 368.2h0M526.0 362.2h0M616.7 314.9h0M558.2 333.9h0M587.3 324.3h0M571.7 334.2h0M486.6 379.8h0M578.7 335.9h0M514.8 364.1h0M567.7 344.8h0M579.5 332.6h0M463.8 399.8h0M613.6 309.8h0M472.0 383.5h0M654.4 289.6h0M457.5 396.7h0M593.9 322.1h0M455.1 398.4h0M656.6 280.2h0M477.2 387.9h0M491.7 389.2h0M405.2 422.5h0M501.2 373.0h0M622.1 315.0h0M506.0 371.3h0M582.4 326.5h0M399.9 422.8h0M485.8 380.5h0M543.4 346.7h0M645.5 290.5h0M585.7 329.2h0M519.6 365.2h0M452.6 402.9h0M639.8 304.0h0M607.5 312.1h0M486.7 387.9h0M419.1 407.0h0M411.8 425.1h0M604.8 312.6h0M498.4 370.0h0M637.2 306.1h0M657.5 288.4h0M532.9 349.1h0M581.5 330.7h0M562.9 331.5h0M583.2 324.2h0M678.1 279.9h0M624.1 307.0h0M668.0 280.2h0M498.9 371.8h0M654.1 291.4h0M638.6 299.5h0M658.6 293.1h0M467.2 387.8h0M532.1 360.1h0M621.8 299.4h0M620.5 307.0h0M625.9 310.7h0M623.2 307.5h0M543.2 345.5h0M452.9 398.6h0M457.9 394.5h0M451.5 399.1h0M648.3 286.9h0M490.6 373.6h0M593.6 329.3h0M520.5 360.9h0M576.4 326.2h0M494.3 380.0h0M607.4 307.1h0M444.5 402.0h0M615.1 317.5h0M575.1 321.1h0M482.7 384.3h0M638.4 295.8h0M664.4 284.5h0M652.8 297.9h0M524.7 356.0h0M453.1 413.1h0M586.4 329.7h0M589.1 322.9h0M658.3 280.0h0M632.8 298.9h0M608.0 314.5h0M539.3 356.8h0M600.3 311.9h0M605.6 314.1h0M520.8 355.8h0M444.9 411.6h0M640.2 296.7h0M626.2 302.8h0M625.6 301.1h0M502.9 369.2h0M550.3 347.9h0M470.6 398.9h0M539.6 355.2h0M631.2 297.8h0M526.5 371.8h0M610.6 307.3h0M514.7 373.1h0M607.0 323.1h0M624.3 298.7h0M464.1 393.3h0M461.7 390.4h0M531.7 360.6h0M565.7 334.6h0M496.1 378.3h0M622.5 307.2h0M663.4 294.3h0M608.5 317.6h0M510.3 374.7h0M606.2 324.1h0M478.4 375.9h0M442.5 409.9h0M586.8 321.8h0M603.0 323.2h0M621.5 308.9h0M487.6 389.7h0M566.3 335.9h0M444.3 402.0h0M565.4 329.9h0M540.5 355.4h0M595.5 325.4h0M558.8 342.3h0M491.7 385.0h0M598.2 321.3h0M545.7 335.9h0M432.9 411.0h0M608.4 319.1h0M629.6 302.7h0M455.6 395.6h0M641.5 308.9h0M442.4 402.3h0M459.8 404.5h0M591.5 320.6h0M535.1 354.1h0M620.8 308.9h0M549.2 344.8h0M664.2 285.5h0M459.8 397.3h0M630.6 305.2h0M442.7 402.0h0M609.5 307.8h0M594.6 320.3h0M667.9 287.6h0M593.4 315.1h0M655.3 289.3h0M442.8 401.4h0M515.9 365.7h0M425.0 404.1h0M546.3 347.1h0M535.8 360.8h0M550.8 348.1h0M433.2 415.8h0M548.9 347.0h0M491.1 377.5h0M596.2 312.7h0M484.9 378.0h0M491.5 383.1h0M592.3 315.7h0M605.8 325.1h0M622.8 308.3h0M454.3 403.5h0M446.8 402.0h0M605.0 322.9h0M534.9 348.2h0M504.2 375.6h0M632.2 300.3h0M459.3 393.2h0M620.8 313.5h0M540.9 360.2h0M531.5 357.2h0M493.2 380.1h0M517.6 354.3h0M632.9 299.1h0M645.0 303.3h0M511.4 371.3h0M445.5 401.5h0M536.2 353.6h0M431.0 401.4h0M424.9 407.5h0M531.2 356.2h0M578.8 334.6h0M615.9 305.9h0M544.9 337.4h0M438.6 417.7h0M661.4 281.3h0M575.2 332.9h0M429.0 407.5h0M511.4 366.5h0M483.1 384.9h0M593.2 321.8h0M661.4 278.1h0M521.4 362.4h0M455.6 394.9h0M625.3 308.4h0M649.0 293.6h0M621.5 300.3h0M521.0 363.0h0M567.1 342.4h0M555.0 340.8h0M434.8 399.9h0M498.0 367.9h0M544.8 345.2h0M610.4 304.1h0M654.2 292.7h0M584.1 336.6h0M422.7 424.3h0M528.2 361.9h0M449.5 398.9h0M616.5 305.2h0M595.0 314.1h0M540.6 337.9h0M604.8 317.0h0M558.9 337.1h0M623.6 301.9h0M560.8 331.1h0M553.5 340.5h0M577.3 329.1h0M663.0 291.9h0M611.2 311.8h0M585.2 325.7h0M588.6 321.9h0M575.2 337.6h0M589.7 327.1h0M584.4 317.5h0M596.4 320.7h0M636.1 292.4h0M643.6 284.7h0M561.1 327.4h0M492.6 372.0h0M586.1 326.8h0M596.6 310.5h0M556.3 331.7h0M591.0 324.9h0M585.3 315.8h0M491.5 383.0h0M551.8 335.2h0M589.9 315.1h0M590.7 316.9h0M520.7 359.8h0M419.7 423.1h0M560.8 328.2h0M487.2 378.1h0M672.0 281.9h0M434.8 407.8h0M542.0 346.0h0M456.8 397.8h0M438.6 409.0h0M529.0 357.9h0M501.8 366.1h0M656.5 288.6h0M500.7 370.9h0M632.1 304.8h0M664.7 282.3h0M588.7 332.0h0M550.3 350.6h0M535.0 355.9h0M612.1 319.6h0M550.2 343.1h0M662.0 282.4h0M451.0 403.9h0M451.5 402.0h0M561.1 339.0h0M572.7 332.8h0M575.3 323.9h0M438.1 412.6h0M520.7 369.2h0M519.8 364.9h0M507.0 379.4h0M430.5 412.4h0M638.8 297.2h0M473.9 385.6h0M577.4 331.9h0M659.4 286.5h0M606.2 308.4h0M648.5 293.3h0M473.1 390.0h0M511.2 366.1h0M557.2 336.5h0M493.3 378.6h0M601.6 314.7h0M559.9 336.9h0M516.8 362.1h0M541.1 347.5h0M635.8 297.6h0M464.7 385.6h0M618.3 315.2h0M660.4 274.6h0M619.0 302.2h0M565.9 338.1h0M479.9 389.8h0M527.4 366.2h0M434.1 404.0h0M559.8 344.8h0M593.1 321.9h0M478.9 390.9h0M669.2 280.6h0M608.0 312.7h0M476.2 393.2h0M609.9 305.4h0M451.1 395.8h0M655.5 283.1h0M638.5 295.7h0M564.6 329.6h0M498.4 385.9h0M468.8 400.5h0M588.2 319.9h0M593.7 321.6h0M488.1 382.3h0M536.1 360.2h0M532.5 345.8h0M506.0 377.0h0M522.5 358.2h0M646.6 300.1h0M639.0 304.6h0M591.2 318.2h0M671.3 273.9h0M576.1 330.2h0M579.4 325.5h0M420.2 414.2h0M546.9 348.5h0M634.0 301.1h0M557.4 339.1h0M575.7 327.1h0M529.5 362.2h0M505.5 368.3h0M583.8 334.6h0M436.6 412.7h0M545.5 343.9h0M668.2 291.2h0M567.2 331.0h0M613.7 307.1h0M508.6 367.2h0M487.8 387.0h0M538.5 342.5h0M591.7 318.5h0M603.3 318.6h0M638.1 295.3h0M580.8 326.6h0M565.9 329.1h0M661.2 280.4h0M457.3 393.0h0M553.9 347.1h0M653.5 282.5h0M612.0 313.1h0M625.3 298.5h0M584.5 332.5h0M580.0 321.1h0M618.4 312.6h0M655.9 290.6h0M505.6 366.0h0M478.8 397.1h0M562.4 329.5h0M501.7 368.2h0M525.1 360.3h0M568.0 328.8h0M615.2 305.5h0M533.7 355.7h0M575.3 326.9h0M510.7 366.7h0M509.8 381.0h0M539.4 348.7h0M549.3 339.8h0M648.3 288.2h0M450.6 397.0h0M551.2 343.0h0M417.2 422.2h0M653.2 294.4h0M656.4 282.9h0M560.3 344.1h0" stroke="#ff0000" stroke-width="1.6" stroke-linecap="round" fill="none"/>
<rect x="36.6" y="0.7" width="298.9" height="184.5" fill="none" stroke="#666" stroke-width="1.3"/>
<path d="M43 185.2v-2.5M43 0.7v2.5M97.2 185.2v-2.5M97.2 0.7v2.5M151.5 185.2v-2.5M151.5 0.7v2.5M205.8 185.2v-2.5M205.8 0.7v2.5M260 185.2v-2.5M260 0.7v2.5M314.2 185.2v-2.5M314.2 0.7v2.5M36.6 181.9h2.5M335.5 181.9h-2.5M36.6 144.9h2.5M335.5 144.9h-2.5M36.6 107.9h2.5M335.5 107.9h-2.5M36.6 70.9h2.5M335.5 70.9h-2.5M36.6 33.9h2.5M335.5 33.9h-2.5" stroke="#000" stroke-width="1.7" fill="none"/>
<path d="M53.9 185.2v-1.8M53.9 0.7v1.8M64.7 185.2v-1.8M64.7 0.7v1.8M75.5 185.2v-1.8M75.5 0.7v1.8M86.4 185.2v-1.8M86.4 0.7v1.8M108.1 185.2v-1.8M108.1 0.7v1.8M119 185.2v-1.8M119 0.7v1.8M129.8 185.2v-1.8M129.8 0.7v1.8M140.6 185.2v-1.8M140.6 0.7v1.8M162.3 185.2v-1.8M162.3 0.7v1.8M173.2 185.2v-1.8M173.2 0.7v1.8M184 185.2v-1.8M184 0.7v1.8M194.9 185.2v-1.8M194.9 0.7v1.8M216.6 185.2v-1.8M216.6 0.7v1.8M227.4 185.2v-1.8M227.4 0.7v1.8M238.3 185.2v-1.8M238.3 0.7v1.8M249.2 185.2v-1.8M249.2 0.7v1.8M270.9 185.2v-1.8M270.9 0.7v1.8M281.7 185.2v-1.8M281.7 0.7v1.8M292.5 185.2v-1.8M292.5 0.7v1.8M303.4 185.2v-1.8M303.4 0.7v1.8M325.1 185.2v-1.8M325.1 0.7v1.8M36.6 174.5h1.8M335.5 174.5h-1.8M36.6 167.1h1.8M335.5 167.1h-1.8M36.6 159.7h1.8M335.5 159.7h-1.8M36.6 152.3h1.8M335.5 152.3h-1.8M36.6 137.5h1.8M335.5 137.5h-1.8M36.6 130.1h1.8M335.5 130.1h-1.8M36.6 122.7h1.8M335.5 122.7h-1.8M36.6 115.3h1.8M335.5 115.3h-1.8M36.6 100.5h1.8M335.5 100.5h-1.8M36.6 93.1h1.8M335.5 93.1h-1.8M36.6 85.7h1.8M335.5 85.7h-1.8M36.6 78.3h1.8M335.5 78.3h-1.8M36.6 63.5h1.8M335.5 63.5h-1.8M36.6 56.1h1.8M335.5 56.1h-1.8M36.6 48.7h1.8M335.5 48.7h-1.8M36.6 41.3h1.8M335.5 41.3h-1.8M36.6 26.5h1.8M335.5 26.5h-1.8M36.6 19.1h1.8M335.5 19.1h-1.8M36.6 11.7h1.8M335.5 11.7h-1.8M36.6 4.3h1.8M335.5 4.3h-1.8" stroke="#000" stroke-width="1.5" fill="none"/>
<text transform="translate(43.00,194.90) scale(0.93,1)" text-anchor="middle" class="t">0.0070</text>
<text transform="translate(97.25,194.90) scale(0.93,1)" text-anchor="middle" class="t">0.0075</text>
<text transform="translate(151.50,194.90) scale(0.93,1)" text-anchor="middle" class="t">0.0080</text>
<text transform="translate(205.75,194.90) scale(0.93,1)" text-anchor="middle" class="t">0.0085</text>
<text transform="translate(260.00,194.90) scale(0.93,1)" text-anchor="middle" class="t">0.0090</text>
<text transform="translate(314.25,194.90) scale(0.93,1)" text-anchor="middle" class="t">0.0095</text>
<text transform="translate(35.40,184.65) scale(0.93,1)" text-anchor="end" class="t">0.4</text>
<text transform="translate(35.40,147.65) scale(0.93,1)" text-anchor="end" class="t">0.5</text>
<text transform="translate(35.40,110.65) scale(0.93,1)" text-anchor="end" class="t">0.6</text>
<text transform="translate(35.40,73.65) scale(0.93,1)" text-anchor="end" class="t">0.7</text>
<text transform="translate(35.40,36.65) scale(0.93,1)" text-anchor="end" class="t">0.8</text>
<rect x="386.6" y="1.4" width="297.8" height="184" fill="none" stroke="#666" stroke-width="1.3"/>
<path d="M393.1 185.4v-2.5M393.1 1.4v2.5M447.1 185.4v-2.5M447.1 1.4v2.5M501.2 185.4v-2.5M501.2 1.4v2.5M555.2 185.4v-2.5M555.2 1.4v2.5M609.2 185.4v-2.5M609.2 1.4v2.5M663.2 185.4v-2.5M663.2 1.4v2.5M386.6 175.8h2.5M684.4 175.8h-2.5M386.6 144.4h2.5M684.4 144.4h-2.5M386.6 113h2.5M684.4 113h-2.5M386.6 81.7h2.5M684.4 81.7h-2.5M386.6 50.3h2.5M684.4 50.3h-2.5M386.6 18.9h2.5M684.4 18.9h-2.5" stroke="#000" stroke-width="1.7" fill="none"/>
<path d="M403.9 185.4v-1.8M403.9 1.4v1.8M414.7 185.4v-1.8M414.7 1.4v1.8M425.5 185.4v-1.8M425.5 1.4v1.8M436.3 185.4v-1.8M436.3 1.4v1.8M457.9 185.4v-1.8M457.9 1.4v1.8M468.7 185.4v-1.8M468.7 1.4v1.8M479.5 185.4v-1.8M479.5 1.4v1.8M490.4 185.4v-1.8M490.4 1.4v1.8M512 185.4v-1.8M512 1.4v1.8M522.8 185.4v-1.8M522.8 1.4v1.8M533.6 185.4v-1.8M533.6 1.4v1.8M544.4 185.4v-1.8M544.4 1.4v1.8M566 185.4v-1.8M566 1.4v1.8M576.8 185.4v-1.8M576.8 1.4v1.8M587.6 185.4v-1.8M587.6 1.4v1.8M598.4 185.4v-1.8M598.4 1.4v1.8M620 185.4v-1.8M620 1.4v1.8M630.8 185.4v-1.8M630.8 1.4v1.8M641.6 185.4v-1.8M641.6 1.4v1.8M652.4 185.4v-1.8M652.4 1.4v1.8M674.1 185.4v-1.8M674.1 1.4v1.8M386.6 182.1h1.8M684.4 182.1h-1.8M386.6 169.5h1.8M684.4 169.5h-1.8M386.6 163.2h1.8M684.4 163.2h-1.8M386.6 157h1.8M684.4 157h-1.8M386.6 150.7h1.8M684.4 150.7h-1.8M386.6 138.1h1.8M684.4 138.1h-1.8M386.6 131.9h1.8M684.4 131.9h-1.8M386.6 125.6h1.8M684.4 125.6h-1.8M386.6 119.3h1.8M684.4 119.3h-1.8M386.6 106.8h1.8M684.4 106.8h-1.8M386.6 100.5h1.8M684.4 100.5h-1.8M386.6 94.2h1.8M684.4 94.2h-1.8M386.6 87.9h1.8M684.4 87.9h-1.8M386.6 75.4h1.8M684.4 75.4h-1.8M386.6 69.1h1.8M684.4 69.1h-1.8M386.6 62.8h1.8M684.4 62.8h-1.8M386.6 56.6h1.8M684.4 56.6h-1.8M386.6 44h1.8M684.4 44h-1.8M386.6 37.7h1.8M684.4 37.7h-1.8M386.6 31.5h1.8M684.4 31.5h-1.8M386.6 25.2h1.8M684.4 25.2h-1.8M386.6 12.6h1.8M684.4 12.6h-1.8M386.6 6.3h1.8M684.4 6.3h-1.8" stroke="#000" stroke-width="1.5" fill="none"/>
<text transform="translate(393.10,195.10) scale(0.93,1)" text-anchor="middle" class="t">0.0070</text>
<text transform="translate(447.13,195.10) scale(0.93,1)" text-anchor="middle" class="t">0.0075</text>
<text transform="translate(501.16,195.10) scale(0.93,1)" text-anchor="middle" class="t">0.0080</text>
<text transform="translate(555.19,195.10) scale(0.93,1)" text-anchor="middle" class="t">0.0085</text>
<text transform="translate(609.22,195.10) scale(0.93,1)" text-anchor="middle" class="t">0.0090</text>
<text transform="translate(663.25,195.10) scale(0.93,1)" text-anchor="middle" class="t">0.0095</text>
<text transform="translate(385.40,178.55) scale(0.93,1)" text-anchor="end" class="t">6.7</text>
<text transform="translate(385.40,147.17) scale(0.93,1)" text-anchor="end" class="t">6.8</text>
<text transform="translate(385.40,115.79) scale(0.93,1)" text-anchor="end" class="t">6.9</text>
<text transform="translate(385.40,84.41) scale(0.93,1)" text-anchor="end" class="t">7.0</text>
<text transform="translate(385.40,53.03) scale(0.93,1)" text-anchor="end" class="t">7.1</text>
<text transform="translate(385.40,21.65) scale(0.93,1)" text-anchor="end" class="t">7.2</text>
<rect x="39" y="264.3" width="296.5" height="183.2" fill="none" stroke="#666" stroke-width="1.3"/>
<path d="M62 447.5v-2.5M62 264.3v2.5M105 447.5v-2.5M105 264.3v2.5M147.9 447.5v-2.5M147.9 264.3v2.5M190.8 447.5v-2.5M190.8 264.3v2.5M233.8 447.5v-2.5M233.8 264.3v2.5M276.8 447.5v-2.5M276.8 264.3v2.5M319.7 447.5v-2.5M319.7 264.3v2.5M39 441.9h2.5M335.5 441.9h-2.5M39 402.7h2.5M335.5 402.7h-2.5M39 363.5h2.5M335.5 363.5h-2.5M39 324.4h2.5M335.5 324.4h-2.5M39 285.2h2.5M335.5 285.2h-2.5" stroke="#000" stroke-width="1.7" fill="none"/>
<path d="M44.8 447.5v-1.8M44.8 264.3v1.8M53.4 447.5v-1.8M53.4 264.3v1.8M70.6 447.5v-1.8M70.6 264.3v1.8M79.2 447.5v-1.8M79.2 264.3v1.8M87.8 447.5v-1.8M87.8 264.3v1.8M96.4 447.5v-1.8M96.4 264.3v1.8M113.5 447.5v-1.8M113.5 264.3v1.8M122.1 447.5v-1.8M122.1 264.3v1.8M130.7 447.5v-1.8M130.7 264.3v1.8M139.3 447.5v-1.8M139.3 264.3v1.8M156.5 447.5v-1.8M156.5 264.3v1.8M165.1 447.5v-1.8M165.1 264.3v1.8M173.7 447.5v-1.8M173.7 264.3v1.8M182.3 447.5v-1.8M182.3 264.3v1.8M199.4 447.5v-1.8M199.4 264.3v1.8M208 447.5v-1.8M208 264.3v1.8M216.6 447.5v-1.8M216.6 264.3v1.8M225.2 447.5v-1.8M225.2 264.3v1.8M242.4 447.5v-1.8M242.4 264.3v1.8M251 447.5v-1.8M251 264.3v1.8M259.6 447.5v-1.8M259.6 264.3v1.8M268.2 447.5v-1.8M268.2 264.3v1.8M285.3 447.5v-1.8M285.3 264.3v1.8M293.9 447.5v-1.8M293.9 264.3v1.8M302.5 447.5v-1.8M302.5 264.3v1.8M311.1 447.5v-1.8M311.1 264.3v1.8M328.3 447.5v-1.8M328.3 264.3v1.8M39 434.1h1.8M335.5 434.1h-1.8M39 426.2h1.8M335.5 426.2h-1.8M39 418.4h1.8M335.5 418.4h-1.8M39 410.6h1.8M335.5 410.6h-1.8M39 394.9h1.8M335.5 394.9h-1.8M39 387h1.8M335.5 387h-1.8M39 379.2h1.8M335.5 379.2h-1.8M39 371.4h1.8M335.5 371.4h-1.8M39 355.7h1.8M335.5 355.7h-1.8M39 347.9h1.8M335.5 347.9h-1.8M39 340h1.8M335.5 340h-1.8M39 332.2h1.8M335.5 332.2h-1.8M39 316.5h1.8M335.5 316.5h-1.8M39 308.7h1.8M335.5 308.7h-1.8M39 300.9h1.8M335.5 300.9h-1.8M39 293h1.8M335.5 293h-1.8M39 277.3h1.8M335.5 277.3h-1.8M39 269.5h1.8M335.5 269.5h-1.8" stroke="#000" stroke-width="1.5" fill="none"/>
<text transform="translate(62.00,457.20) scale(0.93,1)" text-anchor="middle" class="t">1.5</text>
<text transform="translate(104.95,457.20) scale(0.93,1)" text-anchor="middle" class="t">1.6</text>
<text transform="translate(147.90,457.20) scale(0.93,1)" text-anchor="middle" class="t">1.7</text>
<text transform="translate(190.85,457.20) scale(0.93,1)" text-anchor="middle" class="t">1.8</text>
<text transform="translate(233.80,457.20) scale(0.93,1)" text-anchor="middle" class="t">1.9</text>
<text transform="translate(276.75,457.20) scale(0.93,1)" text-anchor="middle" class="t">2.0</text>
<text transform="translate(319.70,457.20) scale(0.93,1)" text-anchor="middle" class="t">2.1</text>
<text transform="translate(37.80,444.65) scale(0.93,1)" text-anchor="end" class="t">90</text>
<text transform="translate(37.80,405.47) scale(0.93,1)" text-anchor="end" class="t">100</text>
<text transform="translate(37.80,366.29) scale(0.93,1)" text-anchor="end" class="t">110</text>
<text transform="translate(37.80,327.11) scale(0.93,1)" text-anchor="end" class="t">120</text>
<text transform="translate(37.80,287.93) scale(0.93,1)" text-anchor="end" class="t">130</text>
<rect x="386.6" y="263.3" width="297.8" height="184.3" fill="none" stroke="#666" stroke-width="1.3"/>
<path d="M437.6 447.6v-2.5M437.6 263.3v2.5M503.7 447.6v-2.5M503.7 263.3v2.5M569.7 447.6v-2.5M569.7 263.3v2.5M635.8 447.6v-2.5M635.8 263.3v2.5M386.6 438h2.5M684.4 438h-2.5M386.6 406.6h2.5M684.4 406.6h-2.5M386.6 375.3h2.5M684.4 375.3h-2.5M386.6 343.9h2.5M684.4 343.9h-2.5M386.6 312.6h2.5M684.4 312.6h-2.5M386.6 281.2h2.5M684.4 281.2h-2.5" stroke="#000" stroke-width="1.7" fill="none"/>
<path d="M398 447.6v-1.8M398 263.3v1.8M411.2 447.6v-1.8M411.2 263.3v1.8M424.4 447.6v-1.8M424.4 263.3v1.8M450.8 447.6v-1.8M450.8 263.3v1.8M464 447.6v-1.8M464 263.3v1.8M477.2 447.6v-1.8M477.2 263.3v1.8M490.5 447.6v-1.8M490.5 263.3v1.8M516.9 447.6v-1.8M516.9 263.3v1.8M530.1 447.6v-1.8M530.1 263.3v1.8M543.3 447.6v-1.8M543.3 263.3v1.8M556.5 447.6v-1.8M556.5 263.3v1.8M583 447.6v-1.8M583 263.3v1.8M596.2 447.6v-1.8M596.2 263.3v1.8M609.4 447.6v-1.8M609.4 263.3v1.8M622.6 447.6v-1.8M622.6 263.3v1.8M649 447.6v-1.8M649 263.3v1.8M662.2 447.6v-1.8M662.2 263.3v1.8M675.5 447.6v-1.8M675.5 263.3v1.8M386.6 444.3h1.8M684.4 444.3h-1.8M386.6 431.7h1.8M684.4 431.7h-1.8M386.6 425.5h1.8M684.4 425.5h-1.8M386.6 419.2h1.8M684.4 419.2h-1.8M386.6 412.9h1.8M684.4 412.9h-1.8M386.6 400.4h1.8M684.4 400.4h-1.8M386.6 394.1h1.8M684.4 394.1h-1.8M386.6 387.8h1.8M684.4 387.8h-1.8M386.6 381.6h1.8M684.4 381.6h-1.8M386.6 369h1.8M684.4 369h-1.8M386.6 362.7h1.8M684.4 362.7h-1.8M386.6 356.5h1.8M684.4 356.5h-1.8M386.6 350.2h1.8M684.4 350.2h-1.8M386.6 337.6h1.8M684.4 337.6h-1.8M386.6 331.4h1.8M684.4 331.4h-1.8M386.6 325.1h1.8M684.4 325.1h-1.8M386.6 318.8h1.8M684.4 318.8h-1.8M386.6 306.3h1.8M684.4 306.3h-1.8M386.6 300h1.8M684.4 300h-1.8M386.6 293.7h1.8M684.4 293.7h-1.8M386.6 287.5h1.8M684.4 287.5h-1.8M386.6 274.9h1.8M684.4 274.9h-1.8M386.6 268.7h1.8M684.4 268.7h-1.8" stroke="#000" stroke-width="1.5" fill="none"/>
<text transform="translate(437.60,457.30) scale(0.93,1)" text-anchor="middle" class="t">0.5</text>
<text transform="translate(503.67,457.30) scale(0.93,1)" text-anchor="middle" class="t">0.6</text>
<text transform="translate(569.74,457.30) scale(0.93,1)" text-anchor="middle" class="t">0.7</text>
<text transform="translate(635.81,457.30) scale(0.93,1)" text-anchor="middle" class="t">0.8</text>
<text transform="translate(385.40,440.75) scale(0.93,1)" text-anchor="end" class="t">6.7</text>
<text transform="translate(385.40,409.39) scale(0.93,1)" text-anchor="end" class="t">6.8</text>
<text transform="translate(385.40,378.03) scale(0.93,1)" text-anchor="end" class="t">6.9</text>
<text transform="translate(385.40,346.67) scale(0.93,1)" text-anchor="end" class="t">7.0</text>
<text transform="translate(385.40,315.31) scale(0.93,1)" text-anchor="end" class="t">7.1</text>
<text transform="translate(385.40,283.95) scale(0.93,1)" text-anchor="end" class="t">7.2</text>
<path d="M173.60 202.90V220.40" stroke="#222" stroke-width="1.05"/>
<path d="M198.50 202.90V220.40" stroke="#222" stroke-width="1.05"/>
<text transform="matrix(0.1667,0.0000,0.0000,0.1831,178.0833,215.7331)" font-size="100" class="g" font-style="italic" fill="#1a1a1a">A</text>
<text transform="matrix(0.1191,0.0000,0.0000,0.1171,189.3926,218.5329)" font-size="100" class="g" font-style="italic" fill="#1a1a1a">d</text>
<path d="M523.30 202.90V220.40" stroke="#222" stroke-width="1.05"/>
<path d="M548.20 202.90V220.40" stroke="#222" stroke-width="1.05"/>
<text transform="matrix(0.1667,0.0000,0.0000,0.1831,527.7833,215.7331)" font-size="100" class="g" font-style="italic" fill="#1a1a1a">A</text>
<text transform="matrix(0.1191,0.0000,0.0000,0.1171,539.0926,218.5329)" font-size="100" class="g" font-style="italic" fill="#1a1a1a">d</text>
<path d="M177.50 465.10V482.60" stroke="#222" stroke-width="1.05"/>
<path d="M197.50 465.10V482.60" stroke="#222" stroke-width="1.05"/>
<text transform="matrix(0.1638,0.0000,0.0000,0.1618,180.1500,478.1529)" font-size="100" class="g" font-style="italic" fill="#1a1a1a">g</text>
<text transform="matrix(0.1149,0.0000,0.0000,0.1000,188.5053,480.2500)" font-size="100" class="g" font-style="italic" fill="#1a1a1a">d</text>
<path d="M524.50 465.10V482.60" stroke="#222" stroke-width="1.05"/>
<path d="M547.20 465.10V482.60" stroke="#222" stroke-width="1.05"/>
<path d="M530.00 467.60H535.60" stroke="#222" stroke-width="0.8"/>
<text transform="matrix(0.1961,0.0000,0.0000,0.1729,526.8618,478.3771)" font-size="100" class="g" font-style="italic" fill="#1a1a1a">α</text>
<text transform="matrix(0.1178,0.0000,0.0000,0.1074,537.8967,480.8956)" font-size="100" class="g" font-style="italic" fill="#1a1a1a">q</text>
<path d="M-0.20 82.40H17.50" stroke="#222" stroke-width="1.05"/>
<path d="M-0.20 104.50H17.50" stroke="#222" stroke-width="1.05"/>
<path d="M2.40 93.10V99.10" stroke="#222" stroke-width="0.8"/>
<text transform="matrix(0.0000,-0.1824,0.1740,0.0000,13.4760,101.8971)" font-size="100" class="g" font-style="italic" fill="#1a1a1a">α</text>
<text transform="matrix(0.0000,-0.1089,0.1132,0.0000,15.9721,91.2767)" font-size="100" class="g" font-style="italic" fill="#1a1a1a">q</text>
<path d="M350.00 83.40H367.60" stroke="#222" stroke-width="1.05"/>
<path d="M350.00 104.50H367.60" stroke="#222" stroke-width="1.05"/>
<path d="M347.50 92.00V98.20" stroke="#222" stroke-width="0.8"/>
<text transform="matrix(0.0000,-0.1827,0.1725,0.0000,362.6269,100.9846)" font-size="100" class="g" font-style="italic" fill="#1a1a1a">β</text>
<text transform="matrix(0.0000,-0.1022,0.1000,0.0000,365.6500,92.0567)" font-size="100" class="g" font-style="italic" fill="#1a1a1a">q</text>
<path d="M350.00 345.00H367.60" stroke="#222" stroke-width="1.05"/>
<path d="M350.00 366.10H367.60" stroke="#222" stroke-width="1.05"/>
<path d="M347.50 353.60V359.80" stroke="#222" stroke-width="0.8"/>
<text transform="matrix(0.0000,-0.1827,0.1725,0.0000,362.6269,362.5846)" font-size="100" class="g" font-style="italic" fill="#1a1a1a">β</text>
<text transform="matrix(0.0000,-0.1022,0.1000,0.0000,365.6500,353.6567)" font-size="100" class="g" font-style="italic" fill="#1a1a1a">q</text>
<path d="M-0.20 345.60H17.50" stroke="#222" stroke-width="1.05"/>
<path d="M-0.20 366.50H17.50" stroke="#222" stroke-width="1.05"/>
<text transform="matrix(0.0000,-0.1574,0.1691,0.0000,13.2985,363.7500)" font-size="100" class="g" font-style="italic" fill="#1a1a1a">g</text>
<text transform="matrix(0.0000,-0.1415,0.0979,0.0000,15.4521,355.9573)" font-size="100" class="g" font-style="italic" fill="#1a1a1a">u</text>
<text transform="matrix(0.1077,0.0000,0.0000,0.1256,159.6192,241.9133)" font-size="100" class="g"  fill="#1a1a1a">(</text>
<text transform="matrix(0.1436,0.0000,0.0000,0.1021,163.5756,241.5479)" font-size="100" class="g"  fill="#1a1a1a">a</text>
<text transform="matrix(0.1077,0.0000,0.0000,0.1256,170.3269,241.9133)" font-size="100" class="g"  fill="#1a1a1a">)</text>
<text transform="matrix(0.1077,0.0000,0.0000,0.1256,508.2192,241.9133)" font-size="100" class="g"  fill="#1a1a1a">(</text>
<text transform="matrix(0.1261,0.0000,0.0000,0.1043,513.1500,241.5457)" font-size="100" class="g"  fill="#1a1a1a">b</text>
<text transform="matrix(0.1077,0.0000,0.0000,0.1256,518.9269,241.9133)" font-size="100" class="g"  fill="#1a1a1a">)</text>
<text transform="matrix(0.1077,0.0000,0.0000,0.1256,159.7192,503.8133)" font-size="100" class="g"  fill="#1a1a1a">(</text>
<text transform="matrix(0.1297,0.0000,0.0000,0.1062,163.5311,503.5437)" font-size="100" class="g"  fill="#1a1a1a">c</text>
<text transform="matrix(0.1077,0.0000,0.0000,0.1256,170.4269,503.8133)" font-size="100" class="g"  fill="#1a1a1a">)</text>
<text transform="matrix(0.1077,0.0000,0.0000,0.1256,508.3192,503.8133)" font-size="100" class="g"  fill="#1a1a1a">(</text>
<text transform="matrix(0.1267,0.0000,0.0000,0.1086,512.1433,503.4414)" font-size="100" class="g"  fill="#1a1a1a">d</text>
<text transform="matrix(0.1077,0.0000,0.0000,0.1256,519.0269,503.8133)" font-size="100" class="g"  fill="#1a1a1a">)</text>
</svg></body></html>
